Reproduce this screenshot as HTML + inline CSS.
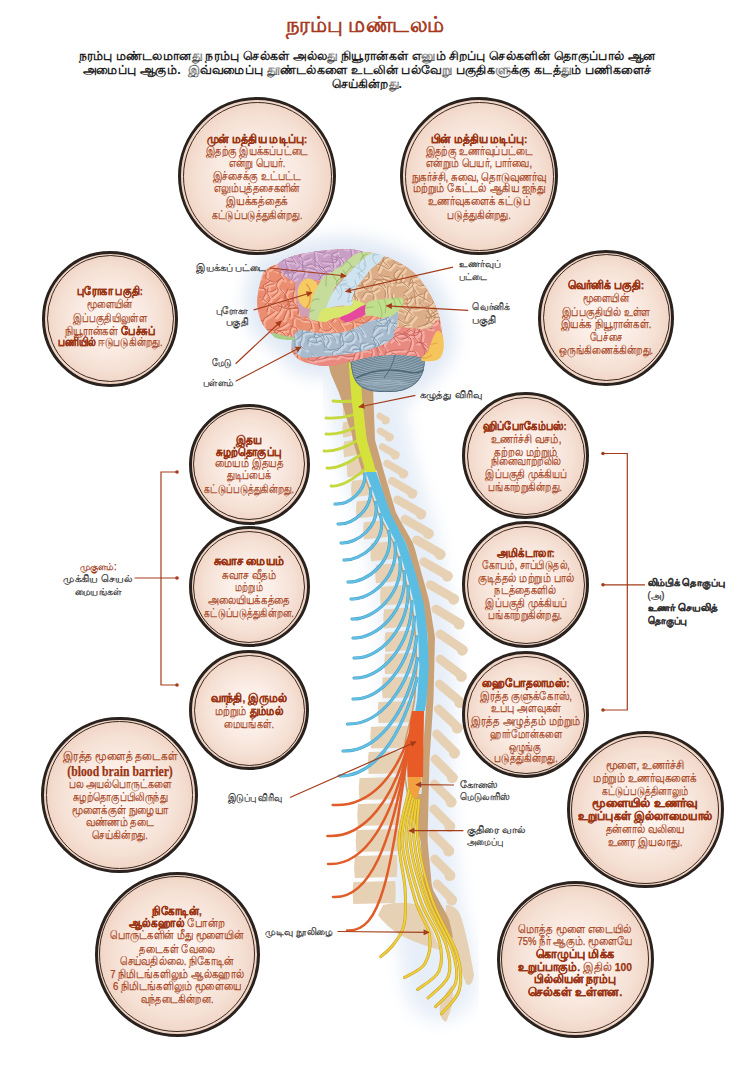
<!DOCTYPE html>
<html><head><meta charset="utf-8"><title>நரம்பு மண்டலம்</title>
<style>
html,body{margin:0;padding:0;background:#fff;}
body{width:756px;height:1068px;position:relative;overflow:hidden;font-family:"Liberation Sans",sans-serif;}
#art{position:absolute;left:0;top:0;width:756px;height:1068px;}
.c{position:absolute;border-radius:50%;box-sizing:border-box;border:3px solid #2a221e;
background:radial-gradient(circle closest-side, #fdf6f2 0%, #fbeee7 40%, #f5e0d4 80%, #f0d4c4 100%);}
.c::after{content:"";position:absolute;left:1.5px;top:1.5px;right:1.5px;bottom:1.5px;border:1px solid #3a2a22;border-radius:50%;}
.ln{position:absolute;height:13px;line-height:13px;text-align:center;white-space:nowrap;color:#a6421a;font-size:11.5px;-webkit-text-stroke:0.25px currentColor;}
.ln span{position:absolute;left:50%;top:0;transform:translateX(-50%);transform-origin:50% 50%;}
.ln b{color:#9a3412;}
.ln b.en{font-family:"Liberation Serif",serif;font-size:14px;}
.lab{color:#2e2e2e;}
</style></head>
<body>

<svg id="art" width="756" height="1068" viewBox="0 0 756 1068">
<defs><filter id="bl" x="-50%" y="-50%" width="200%" height="200%"><feGaussianBlur stdDeviation="9"/></filter><filter id="bl2" x="-50%" y="-50%" width="200%" height="200%"><feGaussianBlur stdDeviation="5"/></filter><marker id="ah" viewBox="0 0 10 10" refX="9" refY="5" markerWidth="8" markerHeight="6" markerUnits="userSpaceOnUse" orient="auto"><path d="M0,0 L10,5 L0,10 z" fill="#a43c1a"/></marker></defs>
<path d="M263.0,274.0 C265.0,269.7 267.5,268.7 270.0,267.0 C272.5,265.3 274.7,265.7 278.0,264.0 C281.3,262.3 284.8,258.9 290.0,257.0 C295.2,255.1 303.0,253.8 309.5,252.6 C316.0,251.4 322.2,250.6 329.0,250.0 C335.8,249.4 344.3,248.7 350.0,249.0 C355.7,249.3 359.2,251.1 363.0,251.8 C366.8,252.5 369.3,252.4 373.0,253.2 C376.7,254.0 380.4,255.0 385.0,256.7 C389.6,258.4 395.7,260.8 400.6,263.6 C405.5,266.4 410.2,269.4 414.4,273.3 C418.6,277.2 422.3,282.3 425.6,287.2 C428.9,292.1 431.7,297.4 434.0,302.5 C436.3,307.6 438.0,312.5 439.4,317.8 C440.8,323.1 441.7,329.3 442.2,334.4 C442.7,339.5 443.3,344.1 442.2,348.3 C441.1,352.5 438.7,354.9 435.3,359.4 C431.9,363.8 427.9,369.9 422.0,375.0 C416.1,380.1 408.7,387.2 400.0,390.0 C391.3,392.8 378.3,396.2 370.0,392.0 C361.7,387.8 356.7,369.3 350.0,365.0 C343.3,360.7 336.3,366.2 330.0,366.0 C323.7,365.8 317.0,365.0 312.0,364.0 C307.0,363.0 303.3,362.0 300.0,360.0 C296.7,358.0 293.4,354.4 292.0,352.0 C290.6,349.6 291.5,348.1 291.7,345.8 C291.9,343.5 294.1,339.1 293.0,338.0 C291.9,336.9 288.0,339.3 285.0,339.0 C282.0,338.7 277.8,337.3 275.0,336.0 C272.2,334.7 270.3,333.5 268.0,331.0 C265.7,328.5 262.8,325.2 261.0,321.0 C259.2,316.8 257.8,310.7 257.3,306.0 C256.8,301.3 257.1,298.3 258.0,293.0 C258.9,287.7 261.0,278.3 263.0,274.0Z" fill="#dfe8f4" stroke="#dfe8f4" stroke-width="24" stroke-linejoin="round" filter="url(#bl)"/>
<path d="M362.0,380.0 C365.0,395.0 373.3,442.7 380.0,470.0 C386.7,497.3 395.7,516.2 402.0,544.0 C408.3,571.8 415.3,607.7 418.0,637.0 C420.7,666.3 418.5,692.8 418.0,720.0 C417.5,747.2 413.8,770.0 415.0,800.0 C416.2,830.0 421.5,875.0 425.0,900.0 C428.5,925.0 433.5,935.8 436.0,950.0 C438.5,964.2 439.3,979.2 440.0,985.0" fill="none" stroke="#e6eef8" stroke-width="72" stroke-linecap="round" filter="url(#bl)"/>
<path d="M343.6,403.5 L355.6,400.5 Q356.6,408.0 355.6,415.5 L343.6,418.5 Q342.1,409.5 343.6,403.5 Z" fill="#e7d1b5"/>
<path d="M343.3,422.3 L357.7,419.3 Q358.7,427.0 357.7,434.7 L343.3,437.7 Q341.8,428.5 343.3,422.3 Z" fill="#e7d1b5"/>
<path d="M344.1,441.5 L361.1,438.5 Q362.1,446.4 361.1,454.3 L344.1,457.3 Q342.6,447.9 344.1,441.5 Z" fill="#e7d1b5"/>
<path d="M347.5,461.1 L367.0,458.1 Q368.0,466.1 367.0,474.2 L347.5,477.2 Q346.0,467.6 347.5,461.1 Z" fill="#e7d1b5"/>
<path d="M351.9,481.0 L374.1,478.0 Q375.1,486.3 374.1,494.6 L351.9,497.6 Q350.4,487.8 351.9,481.0 Z" fill="#e7d1b5"/>
<path d="M356.8,501.4 L381.6,498.4 Q382.6,506.9 381.6,515.4 L356.8,518.4 Q355.3,508.4 356.8,501.4 Z" fill="#e7d1b5"/>
<path d="M363.9,522.2 L391.5,519.2 Q392.5,527.9 391.5,536.6 L363.9,539.6 Q362.4,529.4 363.9,522.2 Z" fill="#e7d1b5"/>
<path d="M371.1,543.3 L401.5,540.3 Q402.5,549.3 401.5,558.2 L371.1,561.2 Q369.6,550.8 371.1,543.3 Z" fill="#e7d1b5"/>
<path d="M376.0,564.9 L408.5,561.9 Q409.5,571.1 408.5,580.2 L376.0,583.2 Q374.5,572.6 376.0,564.9 Z" fill="#e7d1b5"/>
<path d="M380.9,587.0 L414.5,584.0 Q415.5,593.3 414.5,602.7 L380.9,605.7 Q379.4,594.8 380.9,587.0 Z" fill="#e7d1b5"/>
<path d="M384.1,609.5 L418.9,606.5 Q419.9,616.0 418.9,625.6 L384.1,628.6 Q382.6,617.5 384.1,609.5 Z" fill="#e7d1b5"/>
<path d="M385.4,632.4 L421.4,629.4 Q422.4,639.2 421.4,649.0 L385.4,652.0 Q383.9,640.7 385.4,632.4 Z" fill="#e7d1b5"/>
<path d="M385.0,653.8 L422.1,652.8 Q423.1,662.8 422.1,672.9 L385.0,673.9 Q383.5,663.3 385.0,653.8 Z" fill="#e7d1b5"/>
<path d="M382.7,677.6 L421.0,676.6 Q422.0,686.9 421.0,697.2 L382.7,698.2 Q381.2,687.4 382.7,677.6 Z" fill="#e7d1b5"/>
<path d="M378.5,702.0 L418.1,701.0 Q419.1,711.5 418.1,722.0 L378.5,723.0 Q377.0,712.0 378.5,702.0 Z" fill="#e7d1b5"/>
<path d="M371.0,726.8 L411.9,725.8 Q412.9,736.6 411.9,747.4 L371.0,748.4 Q369.5,737.1 371.0,726.8 Z" fill="#e7d1b5"/>
<path d="M368.7,752.1 L410.7,751.1 Q411.7,762.1 410.7,773.1 L368.7,774.1 Q367.2,762.6 368.7,752.1 Z" fill="#e7d1b5"/>
<path d="M359.5,778.1 L401.5,777.1 Q402.5,788.1 401.5,799.1 L359.5,800.1 Q358.0,788.6 359.5,778.1 Z" fill="#e7d1b5"/>
<path d="M358.0,804.1 L400.0,803.1 Q401.0,814.1 400.0,825.1 L358.0,826.1 Q356.5,814.6 358.0,804.1 Z" fill="#e7d1b5"/>
<path d="M356.4,830.1 L398.4,829.1 Q399.4,840.1 398.4,851.1 L356.4,852.1 Q354.9,840.6 356.4,830.1 Z" fill="#e7d1b5"/>
<path d="M354.8,856.1 L396.8,855.1 Q397.8,866.1 396.8,877.1 L354.8,878.1 Q353.3,866.6 354.8,856.1 Z" fill="#e7d1b5"/>
<path d="M353.3,882.1 L395.3,881.1 Q396.3,892.1 395.3,903.1 L353.3,904.1 Q351.8,892.6 353.3,882.1 Z" fill="#e7d1b5"/>
<path d="M383,905 Q405,900 420,906 L432,930 L440,950 Q420,945 400,935 Q385,925 378,915 Z" fill="#e7d1b5"/>
<path d="M446,905 Q458,905 462,920 Q468,940 474,975 Q472,988 466,984 Q458,960 450,945 Q444,925 446,905Z" fill="#e7d1b5"/>
<path d="M452,985 Q456,1000 446,1022 Q438,1018 440,1005 Q444,995 452,985Z" fill="#e7d1b5"/>
<line x1="379.6" y1="416.0" x2="386.5" y2="420.0" stroke="#e7d1b5" stroke-width="6.5" stroke-linecap="round"/>
<circle cx="385.5" cy="420.5" r="3.9" fill="#e7d1b5"/>
<line x1="380.2" y1="431.0" x2="390.3" y2="436.9" stroke="#e7d1b5" stroke-width="6.9" stroke-linecap="round"/>
<circle cx="389.3" cy="437.4" r="4.1" fill="#e7d1b5"/>
<line x1="382.4" y1="446.8" x2="396.0" y2="454.7" stroke="#e7d1b5" stroke-width="7.3" stroke-linecap="round"/>
<circle cx="395.0" cy="455.2" r="4.4" fill="#e7d1b5"/>
<line x1="387.1" y1="463.5" x2="404.3" y2="473.5" stroke="#e7d1b5" stroke-width="7.7" stroke-linecap="round"/>
<circle cx="403.3" cy="474.0" r="4.6" fill="#e7d1b5"/>
<line x1="392.2" y1="481.1" x2="413.2" y2="493.3" stroke="#e7d1b5" stroke-width="8.1" stroke-linecap="round"/>
<circle cx="412.2" cy="493.8" r="4.9" fill="#e7d1b5"/>
<line x1="397.6" y1="499.7" x2="421.9" y2="513.7" stroke="#e7d1b5" stroke-width="8.6" stroke-linecap="round"/>
<circle cx="420.9" cy="514.2" r="5.2" fill="#e7d1b5"/>
<line x1="405.1" y1="519.3" x2="429.3" y2="533.3" stroke="#e7d1b5" stroke-width="9.0" stroke-linecap="round"/>
<circle cx="428.3" cy="533.8" r="5.4" fill="#e7d1b5"/>
<line x1="416.7" y1="540.0" x2="441.0" y2="554.0" stroke="#e7d1b5" stroke-width="9.0" stroke-linecap="round"/>
<circle cx="440.0" cy="554.5" r="5.4" fill="#e7d1b5"/>
<line x1="423.9" y1="561.8" x2="448.2" y2="575.8" stroke="#e7d1b5" stroke-width="9.0" stroke-linecap="round"/>
<circle cx="447.2" cy="576.3" r="5.4" fill="#e7d1b5"/>
<line x1="430.3" y1="584.8" x2="454.6" y2="598.8" stroke="#e7d1b5" stroke-width="9.0" stroke-linecap="round"/>
<circle cx="453.6" cy="599.3" r="5.4" fill="#e7d1b5"/>
<line x1="436.0" y1="609.1" x2="460.0" y2="623.6" stroke="#e7d1b5" stroke-width="9.0" stroke-linecap="round"/>
<circle cx="459.0" cy="624.1" r="5.4" fill="#e7d1b5"/>
<line x1="440.0" y1="634.1" x2="463.2" y2="649.8" stroke="#e7d1b5" stroke-width="9.0" stroke-linecap="round"/>
<circle cx="462.2" cy="650.3" r="5.4" fill="#e7d1b5"/>
<line x1="440.0" y1="659.1" x2="462.3" y2="676.0" stroke="#e7d1b5" stroke-width="9.0" stroke-linecap="round"/>
<circle cx="461.3" cy="676.5" r="5.4" fill="#e7d1b5"/>
<line x1="439.4" y1="684.1" x2="460.7" y2="702.1" stroke="#e7d1b5" stroke-width="9.0" stroke-linecap="round"/>
<circle cx="459.7" cy="702.6" r="5.4" fill="#e7d1b5"/>
<line x1="438.4" y1="709.1" x2="458.2" y2="727.7" stroke="#e7d1b5" stroke-width="9.0" stroke-linecap="round"/>
<circle cx="457.2" cy="728.2" r="5.4" fill="#e7d1b5"/>
<line x1="436.7" y1="734.1" x2="455.4" y2="752.8" stroke="#e7d1b5" stroke-width="9.0" stroke-linecap="round"/>
<circle cx="454.4" cy="753.3" r="5.4" fill="#e7d1b5"/>
<line x1="435.1" y1="759.1" x2="453.2" y2="777.3" stroke="#e7d1b5" stroke-width="9.0" stroke-linecap="round"/>
<circle cx="452.2" cy="777.8" r="5.4" fill="#e7d1b5"/>
<line x1="434.4" y1="784.1" x2="452.0" y2="801.7" stroke="#e7d1b5" stroke-width="9.0" stroke-linecap="round"/>
<circle cx="451.0" cy="802.2" r="5.4" fill="#e7d1b5"/>
<line x1="433.8" y1="809.1" x2="450.8" y2="826.2" stroke="#e7d1b5" stroke-width="9.0" stroke-linecap="round"/>
<circle cx="449.8" cy="826.7" r="5.4" fill="#e7d1b5"/>
<line x1="433.1" y1="834.1" x2="449.7" y2="850.7" stroke="#e7d1b5" stroke-width="9.0" stroke-linecap="round"/>
<circle cx="448.7" cy="851.2" r="5.4" fill="#e7d1b5"/>
<line x1="434.8" y1="859.1" x2="450.8" y2="875.1" stroke="#e7d1b5" stroke-width="9.0" stroke-linecap="round"/>
<circle cx="449.8" cy="875.6" r="5.4" fill="#e7d1b5"/>
<line x1="437.1" y1="884.1" x2="452.6" y2="899.6" stroke="#e7d1b5" stroke-width="9.0" stroke-linecap="round"/>
<circle cx="451.6" cy="900.1" r="5.4" fill="#e7d1b5"/>
<path d="M326.0,350.0 L327.1,356.0 L328.2,362.0 L329.3,368.0 L330.9,374.0 L333.5,380.0 L336.1,386.0 L338.7,392.0 L340.8,398.0 L342.5,404.0 L344.2,410.0 L345.9,416.0 L347.7,422.0 L349.9,428.0 L352.0,434.0 L352.7,440.0 L354.5,446.0 L356.3,452.0 L358.1,458.0 L359.9,464.0 L361.7,470.0 L363.8,476.0 L366.0,482.0 L368.2,488.0 L370.4,494.0 L372.6,500.0 L374.8,506.0 L377.0,512.0 L380.0,518.0 L383.0,524.0 L386.1,530.0 L389.2,536.0 L392.3,542.0 L394.6,548.0 L396.5,554.0 L398.5,560.0 L400.4,566.0 L402.3,572.0 L404.1,578.0 L405.6,584.0 L407.2,590.0 L408.7,596.0 L410.3,602.0 L411.5,608.0 L412.2,614.0 L412.9,620.0 L413.6,626.0 L414.2,632.0 L414.8,638.0 L415.0,644.0 L415.2,650.0 L415.4,656.0 L415.6,662.0 L415.8,668.0 L415.4,674.0 L415.0,680.0 L414.6,686.0 L414.2,692.0 L413.8,698.0 L412.9,704.0 L411.9,710.0 L410.5,716.0 L409.0,722.0 L407.5,728.0 L406.0,734.0 L404.5,740.0 L404.4,746.0 L404.3,752.0 L404.3,758.0 L404.2,764.0 L404.1,770.0 L404.0,776.0 L404.8,782.0 L405.8,788.0 L406.8,794.0 L407.8,800.0 L409.9,806.0 L411.8,812.0 L413.6,818.0 L415.5,824.0 L417.4,830.0 L419.2,836.0 L420.6,842.0 L421.1,848.0 L421.5,854.0 L422.0,860.0 L422.4,866.0 L422.8,872.0 L423.3,878.0 L423.7,884.0 L424.8,890.0 L427.2,896.0 L429.6,902.0 L432.0,908.0 L434.4,914.0 L437.1,920.0 L440.4,926.0 L443.8,932.0 L453.0,938.0 L452.0,932.0 L450.6,926.0 L449.1,920.0 L446.4,914.0 L443.1,908.0 L439.7,902.0 L436.4,896.0 L433.1,890.0 L431.6,884.0 L431.1,878.0 L430.5,872.0 L429.9,866.0 L429.4,860.0 L428.8,854.0 L428.2,848.0 L427.7,842.0 L427.6,836.0 L427.8,830.0 L427.9,824.0 L428.1,818.0 L428.2,812.0 L428.4,806.0 L428.5,800.0 L428.6,794.0 L428.8,788.0 L428.9,782.0 L429.1,776.0 L429.2,770.0 L429.4,764.0 L429.6,758.0 L430.0,752.0 L430.4,746.0 L430.8,740.0 L431.2,734.0 L431.6,728.0 L432.0,722.0 L432.4,716.0 L432.8,710.0 L433.2,704.0 L433.5,698.0 L433.7,692.0 L433.8,686.0 L434.0,680.0 L434.1,674.0 L434.3,668.0 L434.4,662.0 L434.5,656.0 L434.7,650.0 L434.8,644.0 L435.0,638.0 L434.2,632.0 L433.2,626.0 L432.2,620.0 L431.3,614.0 L430.3,608.0 L429.3,602.0 L427.9,596.0 L426.2,590.0 L424.6,584.0 L422.9,578.0 L421.2,572.0 L419.6,566.0 L417.9,560.0 L416.3,554.0 L414.6,548.0 L412.4,542.0 L409.0,536.0 L405.6,530.0 L402.2,524.0 L398.8,518.0 L395.7,512.0 L394.0,506.0 L392.2,500.0 L390.4,494.0 L388.7,488.0 L386.9,482.0 L385.2,476.0 L383.4,470.0 L381.8,464.0 L380.1,458.0 L378.4,452.0 L376.7,446.0 L375.0,440.0 L374.8,434.0 L374.6,428.0 L374.3,422.0 L374.1,416.0 L373.9,410.0 L373.6,404.0 L373.4,398.0 L373.3,392.0 L373.1,386.0 L372.9,380.0 L372.7,374.0 L372.5,368.0 L372.4,362.0 L372.2,356.0 L372.0,350.0 Z" fill="#c9a175"/>
<path d="M363.4,470.0 L365.5,476.0 L367.7,482.0 L369.9,488.0 L372.1,494.0 L374.3,500.0 L376.5,506.0 L378.7,512.0 L381.7,518.0 L384.7,524.0 L387.8,530.0 L390.9,536.0 L394.0,542.0 L396.3,548.0 L398.2,554.0 L400.2,560.0 L402.1,566.0 L404.0,572.0 L405.8,578.0 L407.3,584.0 L408.9,590.0 L410.4,596.0 L412.0,602.0 L413.2,608.0 L413.9,614.0 L414.6,620.0 L415.3,626.0 L415.9,632.0 L416.5,638.0 L416.7,644.0 L416.9,650.0 L417.1,656.0 L417.3,662.0 L417.5,668.0 L417.1,674.0 L416.7,680.0 L416.3,686.0 L415.9,692.0 L415.5,698.0 L414.6,704.0 L413.6,710.0 L412.2,716.0 L410.7,722.0 L409.2,728.0 L407.7,734.0 L406.2,740.0 L406.1,746.0 L406.0,752.0 L406.0,758.0 L405.9,764.0 L405.8,770.0 L405.7,776.0 L406.5,782.0 L407.5,788.0 L408.5,794.0 L421.6,794.0 L421.8,788.0 L421.9,782.0 L422.1,776.0 L422.2,770.0 L422.4,764.0 L422.6,758.0 L423.0,752.0 L423.4,746.0 L423.8,740.0 L424.2,734.0 L424.6,728.0 L425.0,722.0 L425.4,716.0 L425.8,710.0 L426.2,704.0 L426.5,698.0 L426.7,692.0 L426.8,686.0 L427.0,680.0 L427.1,674.0 L427.3,668.0 L427.4,662.0 L427.5,656.0 L427.7,650.0 L427.8,644.0 L428.0,638.0 L427.2,632.0 L426.2,626.0 L425.2,620.0 L424.3,614.0 L423.3,608.0 L422.3,602.0 L420.9,596.0 L419.2,590.0 L417.6,584.0 L415.9,578.0 L414.2,572.0 L412.6,566.0 L410.9,560.0 L409.3,554.0 L407.6,548.0 L405.4,542.0 L402.0,536.0 L398.6,530.0 L395.2,524.0 L391.8,518.0 L388.7,512.0 L387.0,506.0 L385.2,500.0 L383.4,494.0 L381.7,488.0 L379.9,482.0 L378.2,476.0 L376.4,470.0 Z" fill="#d6eaf3"/>
<path d="M352.8,401.0 Q347.0,402.0 333.0,401.0" fill="none" stroke="#c5d83c" stroke-width="2.8" stroke-linecap="round"/>
<path d="M354.3,414.5 Q340.0,419.0 326.0,418.0" fill="none" stroke="#c5d83c" stroke-width="2.8" stroke-linecap="round"/>
<path d="M355.7,427.0 Q340.0,435.0 326.0,434.0" fill="none" stroke="#c5d83c" stroke-width="2.8" stroke-linecap="round"/>
<path d="M357.4,440.5 Q338.0,452.0 324.0,451.0" fill="none" stroke="#c5d83c" stroke-width="2.8" stroke-linecap="round"/>
<path d="M361.4,454.0 Q341.0,469.0 327.0,468.0" fill="none" stroke="#c5d83c" stroke-width="2.8" stroke-linecap="round"/>
<path d="M365.8,468.5 Q345.0,487.0 331.0,486.0" fill="none" stroke="#c5d83c" stroke-width="2.8" stroke-linecap="round"/>
<path d="M365.0,474.0 C365.7,492.0 348.5,505.0 335.0,504.0" fill="none" stroke="#3f9fc6" stroke-width="3.1" stroke-linecap="round"/><path d="M365.0,474.0 C365.7,492.0 348.5,505.0 335.0,504.0" fill="none" stroke="#62bfe3" stroke-width="2.2" stroke-linecap="round"/>
<path d="M370.5,488.8 C372.3,509.9 352.6,525.0 338.0,524.0" fill="none" stroke="#3f9fc6" stroke-width="3.1" stroke-linecap="round"/><path d="M370.5,488.8 C372.3,509.9 352.6,525.0 338.0,524.0" fill="none" stroke="#62bfe3" stroke-width="2.2" stroke-linecap="round"/>
<path d="M375.6,502.6 C380.5,526.8 356.6,544.0 341.0,543.0" fill="none" stroke="#3f9fc6" stroke-width="3.1" stroke-linecap="round"/><path d="M375.6,502.6 C380.5,526.8 356.6,544.0 341.0,543.0" fill="none" stroke="#62bfe3" stroke-width="2.2" stroke-linecap="round"/>
<path d="M380.1,514.4 C388.2,541.8 360.3,561.0 344.0,560.0" fill="none" stroke="#3f9fc6" stroke-width="3.1" stroke-linecap="round"/><path d="M380.1,514.4 C388.2,541.8 360.3,561.0 344.0,560.0" fill="none" stroke="#62bfe3" stroke-width="2.2" stroke-linecap="round"/>
<path d="M388.7,531.2 C395.0,561.7 366.3,583.0 348.0,582.0" fill="none" stroke="#3f9fc6" stroke-width="3.1" stroke-linecap="round"/><path d="M388.7,531.2 C395.0,561.7 366.3,583.0 348.0,582.0" fill="none" stroke="#62bfe3" stroke-width="2.2" stroke-linecap="round"/>
<path d="M394.8,543.0 C399.7,576.6 370.7,600.0 351.0,599.0" fill="none" stroke="#3f9fc6" stroke-width="3.1" stroke-linecap="round"/><path d="M394.8,543.0 C399.7,576.6 370.7,600.0 351.0,599.0" fill="none" stroke="#62bfe3" stroke-width="2.2" stroke-linecap="round"/>
<path d="M399.8,557.8 C404.3,594.5 373.5,620.0 352.0,619.0" fill="none" stroke="#3f9fc6" stroke-width="3.1" stroke-linecap="round"/><path d="M399.8,557.8 C404.3,594.5 373.5,620.0 352.0,619.0" fill="none" stroke="#62bfe3" stroke-width="2.2" stroke-linecap="round"/>
<path d="M404.2,571.6 C407.9,611.4 376.0,639.0 353.0,638.0" fill="none" stroke="#3f9fc6" stroke-width="3.1" stroke-linecap="round"/><path d="M404.2,571.6 C407.9,611.4 376.0,639.0 353.0,638.0" fill="none" stroke="#62bfe3" stroke-width="2.2" stroke-linecap="round"/>
<path d="M408.2,586.4 C409.9,629.4 378.4,659.0 354.0,658.0" fill="none" stroke="#3f9fc6" stroke-width="3.1" stroke-linecap="round"/><path d="M408.2,586.4 C409.9,629.4 378.4,659.0 354.0,658.0" fill="none" stroke="#62bfe3" stroke-width="2.2" stroke-linecap="round"/>
<path d="M412.1,601.2 C411.1,647.3 380.1,679.0 354.0,678.0" fill="none" stroke="#3f9fc6" stroke-width="3.1" stroke-linecap="round"/><path d="M412.1,601.2 C411.1,647.3 380.1,679.0 354.0,678.0" fill="none" stroke="#62bfe3" stroke-width="2.2" stroke-linecap="round"/>
<path d="M414.5,617.0 C411.7,666.2 380.7,700.0 353.0,699.0" fill="none" stroke="#3f9fc6" stroke-width="3.1" stroke-linecap="round"/><path d="M414.5,617.0 C411.7,666.2 380.7,700.0 353.0,699.0" fill="none" stroke="#62bfe3" stroke-width="2.2" stroke-linecap="round"/>
<path d="M416.8,636.8 C410.4,689.1 378.7,725.0 347.5,724.0" fill="none" stroke="#3f9fc6" stroke-width="3.1" stroke-linecap="round"/><path d="M416.8,636.8 C410.4,689.1 378.7,725.0 347.5,724.0" fill="none" stroke="#62bfe3" stroke-width="2.2" stroke-linecap="round"/>
<path d="M417.5,658.6 C406.9,714.0 376.5,752.0 343.0,751.0" fill="none" stroke="#3f9fc6" stroke-width="3.1" stroke-linecap="round"/><path d="M417.5,658.6 C406.9,714.0 376.5,752.0 343.0,751.0" fill="none" stroke="#62bfe3" stroke-width="2.2" stroke-linecap="round"/>
<path d="M417.1,678.4 C401.3,737.0 374.1,777.0 339.0,776.0" fill="none" stroke="#3f9fc6" stroke-width="3.1" stroke-linecap="round"/><path d="M417.1,678.4 C401.3,737.0 374.1,777.0 339.0,776.0" fill="none" stroke="#62bfe3" stroke-width="2.2" stroke-linecap="round"/>
<path d="M414.0,720.0 C398.0,779.5 367.7,807.0 332.7,805.0" fill="none" stroke="#e05c28" stroke-width="2.5" stroke-linecap="round"/>
<path d="M412.5,726.0 C396.0,803.0 362.4,838.0 327.4,836.0" fill="none" stroke="#e05c28" stroke-width="2.5" stroke-linecap="round"/>
<path d="M411.0,732.0 C394.0,824.4 363.0,866.0 328.0,864.0" fill="none" stroke="#e05c28" stroke-width="2.5" stroke-linecap="round"/>
<path d="M409.5,738.0 C392.0,849.3 368.0,899.0 333.0,897.0" fill="none" stroke="#e05c28" stroke-width="2.5" stroke-linecap="round"/>
<path d="M408.9,744.0 C390.0,874.5 382.0,932.5 347.0,930.5" fill="none" stroke="#e05c28" stroke-width="2.5" stroke-linecap="round"/>
<path d="M347.7,350.0 L348.0,354.0 L348.3,358.0 L348.7,362.0 L349.0,366.0 L349.3,370.0 L349.6,374.0 L349.9,378.0 L350.3,382.0 L350.6,386.0 L350.9,390.0 L351.2,394.0 L351.5,398.0 L351.9,402.0 L352.4,406.0 L352.8,410.0 L353.3,414.0 L353.7,418.0 L354.2,422.0 L354.6,426.0 L355.1,430.0 L355.5,434.0 L356.0,438.0 L356.8,442.0 L358.0,446.0 L359.2,450.0 L360.4,454.0 L361.6,458.0 L362.8,462.0 L364.0,466.0 L365.2,470.0 L365.8,472.0 L376.2,472.0 L375.6,470.0 L374.4,466.0 L373.3,462.0 L372.1,458.0 L370.9,454.0 L369.7,450.0 L368.6,446.0 L367.4,442.0 L366.6,438.0 L366.1,434.0 L365.7,430.0 L365.2,426.0 L364.8,422.0 L364.3,418.0 L363.9,414.0 L363.4,410.0 L363.0,406.0 L362.5,402.0 L362.1,398.0 L361.8,394.0 L361.5,390.0 L361.2,386.0 L360.9,382.0 L360.5,378.0 L360.2,374.0 L359.9,370.0 L359.6,366.0 L359.3,362.0 L358.9,358.0 L358.6,354.0 L358.3,350.0 Z" fill="#d6e23c"/>
<path d="M365.8,472.0 L367.3,476.0 L368.7,480.0 L370.2,484.0 L371.7,488.0 L373.2,492.0 L374.6,496.0 L376.1,500.0 L377.6,504.0 L379.1,508.0 L380.5,512.0 L382.4,516.0 L384.5,520.0 L386.5,524.0 L388.6,528.0 L390.6,532.0 L392.7,536.0 L394.7,540.0 L396.8,544.0 L398.1,548.0 L399.4,552.0 L400.7,556.0 L402.0,560.0 L403.3,564.0 L404.5,568.0 L405.8,572.0 L407.1,576.0 L408.1,580.0 L409.1,584.0 L410.2,588.0 L411.2,592.0 L412.2,596.0 L413.3,600.0 L414.3,604.0 L415.0,608.0 L415.5,612.0 L415.9,616.0 L416.4,620.0 L416.8,624.0 L417.3,628.0 L417.7,632.0 L418.2,636.0 L418.4,640.0 L418.5,644.0 L418.7,648.0 L418.8,652.0 L418.9,656.0 L419.0,660.0 L419.2,664.0 L419.3,668.0 L419.0,672.0 L418.8,676.0 L418.5,680.0 L418.2,684.0 L417.9,688.0 L417.7,692.0 L417.4,696.0 L417.0,700.0 L416.4,704.0 L415.7,708.0 L415.2,711.0 L424.8,711.0 L425.3,708.0 L426.0,704.0 L426.6,700.0 L427.0,696.0 L427.2,692.0 L427.5,688.0 L427.7,684.0 L428.0,680.0 L428.2,676.0 L428.5,672.0 L428.7,668.0 L428.6,664.0 L428.4,660.0 L428.3,656.0 L428.2,652.0 L428.1,648.0 L427.9,644.0 L427.8,640.0 L427.6,636.0 L427.1,632.0 L426.7,628.0 L426.2,624.0 L425.8,620.0 L425.3,616.0 L424.9,612.0 L424.4,608.0 L423.7,604.0 L422.7,600.0 L421.6,596.0 L420.6,592.0 L419.6,588.0 L418.5,584.0 L417.5,580.0 L416.5,576.0 L415.2,572.0 L413.9,568.0 L412.7,564.0 L411.4,560.0 L410.1,556.0 L408.8,552.0 L407.5,548.0 L406.2,544.0 L404.2,540.0 L402.1,536.0 L400.1,532.0 L398.1,528.0 L396.1,524.0 L394.0,520.0 L392.0,516.0 L390.2,512.0 L388.8,508.0 L387.4,504.0 L386.0,500.0 L384.6,496.0 L383.2,492.0 L381.8,488.0 L380.4,484.0 L379.0,480.0 L377.6,476.0 L376.2,472.0 Z" fill="#5cbde3"/>
<path d="M412,711 L424,711 L423,777 L407.5,777 Q406,740 412,711Z" fill="#e85a26"/>
<path d="M407.5,777 L421.8,777 Q420,795 413,807.5 Q408,795 407.5,777Z" fill="#f2a040"/>
<path d="M409.0,790.0 C407.3,798.3 399.7,823.7 399.0,840.0 C398.3,856.3 404.2,873.8 405.0,888.0 C405.8,902.2 406.0,915.5 404.0,925.0 C402.0,934.5 396.9,939.7 393.0,945.0 C389.1,950.3 382.8,954.8 380.7,956.7" fill="none" stroke="#c9a22a" stroke-width="3.0" stroke-linecap="round"/>
<path d="M409.0,790.0 C407.3,798.3 399.7,823.7 399.0,840.0 C398.3,856.3 404.2,873.8 405.0,888.0 C405.8,902.2 406.0,915.5 404.0,925.0 C402.0,934.5 396.9,939.7 393.0,945.0 C389.1,950.3 382.8,954.8 380.7,956.7" fill="none" stroke="#efd03c" stroke-width="1.9" stroke-linecap="round"/>
<path d="M411.0,795.0 C409.5,802.5 401.3,822.6 402.0,840.0 C402.7,857.4 410.4,883.7 415.0,899.5 C419.6,915.3 427.9,924.3 429.5,935.0 C431.1,945.7 429.0,956.7 424.8,963.8 C420.6,970.9 407.9,975.3 404.5,977.6" fill="none" stroke="#c9a22a" stroke-width="3.0" stroke-linecap="round"/>
<path d="M411.0,795.0 C409.5,802.5 401.3,822.6 402.0,840.0 C402.7,857.4 410.4,883.7 415.0,899.5 C419.6,915.3 427.9,924.3 429.5,935.0 C431.1,945.7 429.0,956.7 424.8,963.8 C420.6,970.9 407.9,975.3 404.5,977.6" fill="none" stroke="#efd03c" stroke-width="1.9" stroke-linecap="round"/>
<path d="M413.0,798.0 C411.8,805.0 404.8,823.1 406.0,840.0 C407.2,856.9 414.5,882.8 420.0,899.5 C425.5,916.2 435.8,928.1 439.0,940.0 C442.2,951.9 442.6,962.8 439.0,971.0 C435.4,979.2 421.2,986.4 417.6,989.5" fill="none" stroke="#c9a22a" stroke-width="3.0" stroke-linecap="round"/>
<path d="M413.0,798.0 C411.8,805.0 404.8,823.1 406.0,840.0 C407.2,856.9 414.5,882.8 420.0,899.5 C425.5,916.2 435.8,928.1 439.0,940.0 C442.2,951.9 442.6,962.8 439.0,971.0 C435.4,979.2 421.2,986.4 417.6,989.5" fill="none" stroke="#efd03c" stroke-width="1.9" stroke-linecap="round"/>
<path d="M415.0,800.0 C414.2,806.7 408.4,823.4 410.0,840.0 C411.6,856.6 418.8,882.0 424.8,899.5 C430.8,917.0 442.0,932.1 446.0,944.8 C450.0,957.5 451.6,966.8 448.6,975.7 C445.6,984.6 431.4,994.3 428.0,998.0" fill="none" stroke="#c9a22a" stroke-width="3.0" stroke-linecap="round"/>
<path d="M415.0,800.0 C414.2,806.7 408.4,823.4 410.0,840.0 C411.6,856.6 418.8,882.0 424.8,899.5 C430.8,917.0 442.0,932.1 446.0,944.8 C450.0,957.5 451.6,966.8 448.6,975.7 C445.6,984.6 431.4,994.3 428.0,998.0" fill="none" stroke="#efd03c" stroke-width="1.9" stroke-linecap="round"/>
<path d="M417.0,800.0 C416.5,806.7 412.1,823.4 414.0,840.0 C415.9,856.6 422.0,881.2 428.3,899.5 C434.6,917.8 447.4,935.6 452.0,949.5 C456.6,963.4 458.4,973.4 455.7,982.9 C452.9,992.4 438.9,1002.7 435.5,1006.7" fill="none" stroke="#c9a22a" stroke-width="3.0" stroke-linecap="round"/>
<path d="M417.0,800.0 C416.5,806.7 412.1,823.4 414.0,840.0 C415.9,856.6 422.0,881.2 428.3,899.5 C434.6,917.8 447.4,935.6 452.0,949.5 C456.6,963.4 458.4,973.4 455.7,982.9 C452.9,992.4 438.9,1002.7 435.5,1006.7" fill="none" stroke="#efd03c" stroke-width="1.9" stroke-linecap="round"/>
<path d="M419.0,800.0 C418.8,806.7 415.8,823.4 418.0,840.0 C420.2,856.6 425.5,880.5 432.0,899.5 C438.5,918.5 452.4,938.9 457.0,954.0 C461.6,969.1 461.9,980.0 459.3,990.0 C456.7,1000.0 444.4,1009.8 441.4,1013.8" fill="none" stroke="#c9a22a" stroke-width="3.0" stroke-linecap="round"/>
<path d="M419.0,800.0 C418.8,806.7 415.8,823.4 418.0,840.0 C420.2,856.6 425.5,880.5 432.0,899.5 C438.5,918.5 452.4,938.9 457.0,954.0 C461.6,969.1 461.9,980.0 459.3,990.0 C456.7,1000.0 444.4,1009.8 441.4,1013.8" fill="none" stroke="#efd03c" stroke-width="1.9" stroke-linecap="round"/>
<path d="M352.0,354.0 C355.0,350.3 363.7,350.2 370.0,349.0 C376.3,347.8 383.3,347.2 390.0,347.0 C396.7,346.8 404.5,347.0 410.0,348.0 C415.5,349.0 420.7,349.7 423.0,353.0 C425.3,356.3 424.8,363.3 424.0,368.0 C423.2,372.7 421.3,377.3 418.0,381.0 C414.7,384.7 409.5,388.2 404.0,390.0 C398.5,391.8 391.0,392.0 385.0,392.0 C379.0,392.0 372.7,391.5 368.0,390.0 C363.3,388.5 359.7,386.2 357.0,383.0 C354.3,379.8 352.8,375.8 352.0,371.0 C351.2,366.2 349.0,357.7 352.0,354.0Z" fill="#6f8797"/>
<clipPath id="cp_cer"><path d="M352.0,354.0 C355.0,350.3 363.7,350.2 370.0,349.0 C376.3,347.8 383.3,347.2 390.0,347.0 C396.7,346.8 404.5,347.0 410.0,348.0 C415.5,349.0 420.7,349.7 423.0,353.0 C425.3,356.3 424.8,363.3 424.0,368.0 C423.2,372.7 421.3,377.3 418.0,381.0 C414.7,384.7 409.5,388.2 404.0,390.0 C398.5,391.8 391.0,392.0 385.0,392.0 C379.0,392.0 372.7,391.5 368.0,390.0 C363.3,388.5 359.7,386.2 357.0,383.0 C354.3,379.8 352.8,375.8 352.0,371.0 C351.2,366.2 349.0,357.7 352.0,354.0Z"/></clipPath>
<g clip-path="url(#cp_cer)" fill="none"><path d="M381.2,353.2 Q388.0,357.0 394.8,353.2" stroke="#a3b8c4" stroke-width="0.8"/><path d="M376.8,354.0 Q388.0,360.2 399.2,354.0" stroke="#a3b8c4" stroke-width="0.8"/><path d="M372.4,354.8 Q388.0,363.5 403.6,354.8" stroke="#a3b8c4" stroke-width="0.8"/><path d="M367.9,355.5 Q388.0,366.8 408.1,355.5" stroke="#a3b8c4" stroke-width="0.8"/><path d="M363.5,356.3 Q388.0,370.0 412.5,356.3" stroke="#a3b8c4" stroke-width="0.8"/><path d="M359.1,357.1 Q388.0,373.2 416.9,357.1" stroke="#a3b8c4" stroke-width="0.8"/><path d="M354.7,357.9 Q388.0,376.5 421.3,357.9" stroke="#a3b8c4" stroke-width="0.8"/><path d="M350.3,358.7 Q388.0,379.8 425.7,358.7" stroke="#a3b8c4" stroke-width="0.8"/><path d="M345.8,359.4 Q388.0,383.0 430.2,359.4" stroke="#a3b8c4" stroke-width="0.8"/><path d="M341.4,360.2 Q388.0,386.2 434.6,360.2" stroke="#a3b8c4" stroke-width="0.8"/><path d="M337.0,361.0 Q388.0,389.5 439.0,361.0" stroke="#a3b8c4" stroke-width="0.8"/><path d="M332.6,361.8 Q388.0,392.8 443.4,361.8" stroke="#a3b8c4" stroke-width="0.8"/><path d="M328.2,362.6 Q388.0,396.0 447.8,362.6" stroke="#a3b8c4" stroke-width="0.8"/><path d="M323.7,363.3 Q388.0,399.2 452.3,363.3" stroke="#a3b8c4" stroke-width="0.8"/><path d="M319.3,364.1 Q388.0,402.5 456.7,364.1" stroke="#a3b8c4" stroke-width="0.8"/><path d="M314.9,364.9 Q388.0,405.8 461.1,364.9" stroke="#a3b8c4" stroke-width="0.8"/><path d="M367.2,392.4 Q380.0,389.7 399.8,392.4" stroke="#a3b8c4" stroke-width="0.8"/><path d="M363.4,391.9 Q380.0,387.1 403.6,391.9" stroke="#a3b8c4" stroke-width="0.8"/><path d="M359.5,391.4 Q380.0,384.4 407.5,391.4" stroke="#a3b8c4" stroke-width="0.8"/><path d="M355.7,391.0 Q380.0,381.8 411.3,391.0" stroke="#a3b8c4" stroke-width="0.8"/><path d="M351.8,390.5 Q380.0,379.1 415.2,390.5" stroke="#a3b8c4" stroke-width="0.8"/><path d="M348.0,390.0 Q380.0,376.5 419.0,390.0" stroke="#a3b8c4" stroke-width="0.8"/><path d="M344.2,389.5 Q380.0,373.9 422.8,389.5" stroke="#a3b8c4" stroke-width="0.8"/><path d="M340.3,389.0 Q380.0,371.2 426.7,389.0" stroke="#a3b8c4" stroke-width="0.8"/><path d="M356,378 Q380,366 408,372 Q418,374 424,370" stroke="#4d6574" stroke-width="1.5"/><path d="M395,355 Q392,368 384,378" stroke="#4d6574" stroke-width="0.9"/><path d="M352.0,354.0 C355.0,350.3 363.7,350.2 370.0,349.0 C376.3,347.8 383.3,347.2 390.0,347.0 C396.7,346.8 404.5,347.0 410.0,348.0 C415.5,349.0 420.7,349.7 423.0,353.0 C425.3,356.3 424.8,363.3 424.0,368.0 C423.2,372.7 421.3,377.3 418.0,381.0 C414.7,384.7 409.5,388.2 404.0,390.0 C398.5,391.8 391.0,392.0 385.0,392.0 C379.0,392.0 372.7,391.5 368.0,390.0 C363.3,388.5 359.7,386.2 357.0,383.0 C354.3,379.8 352.8,375.8 352.0,371.0 C351.2,366.2 349.0,357.7 352.0,354.0Z" stroke="#50697a" stroke-width="1.4"/></g>
<path d="M263.0,274.0 C265.0,269.7 267.5,268.7 270.0,267.0 C272.5,265.3 274.7,265.7 278.0,264.0 C281.3,262.3 284.8,258.9 290.0,257.0 C295.2,255.1 303.0,253.8 309.5,252.6 C316.0,251.4 322.2,250.6 329.0,250.0 C335.8,249.4 344.3,248.7 350.0,249.0 C355.7,249.3 359.2,251.1 363.0,251.8 C366.8,252.5 369.3,252.4 373.0,253.2 C376.7,254.0 380.4,255.0 385.0,256.7 C389.6,258.4 395.7,260.8 400.6,263.6 C405.5,266.4 410.2,269.4 414.4,273.3 C418.6,277.2 422.3,282.3 425.6,287.2 C428.9,292.1 431.7,297.4 434.0,302.5 C436.3,307.6 438.0,312.5 439.4,317.8 C440.8,323.1 441.7,329.3 442.2,334.4 C442.7,339.5 443.3,344.1 442.2,348.3 C441.1,352.5 438.5,357.9 435.3,359.4 C432.1,360.8 428.7,357.7 422.8,357.0 C416.9,356.3 408.0,355.2 400.0,355.0 C392.0,354.8 383.0,355.0 375.0,356.0 C367.0,357.0 359.5,359.3 352.0,361.0 C344.5,362.7 336.7,365.5 330.0,366.0 C323.3,366.5 317.0,365.0 312.0,364.0 C307.0,363.0 303.3,362.0 300.0,360.0 C296.7,358.0 293.4,354.4 292.0,352.0 C290.6,349.6 291.5,348.1 291.7,345.8 C291.9,343.5 294.1,339.1 293.0,338.0 C291.9,336.9 288.0,339.3 285.0,339.0 C282.0,338.7 277.8,337.3 275.0,336.0 C272.2,334.7 270.3,333.5 268.0,331.0 C265.7,328.5 262.8,325.2 261.0,321.0 C259.2,316.8 257.8,310.7 257.3,306.0 C256.8,301.3 257.1,298.3 258.0,293.0 C258.9,287.7 261.0,278.3 263.0,274.0Z" fill="#eb8d71"/>
<clipPath id="cp_sil"><path d="M263.0,274.0 C265.0,269.7 267.5,268.7 270.0,267.0 C272.5,265.3 274.7,265.7 278.0,264.0 C281.3,262.3 284.8,258.9 290.0,257.0 C295.2,255.1 303.0,253.8 309.5,252.6 C316.0,251.4 322.2,250.6 329.0,250.0 C335.8,249.4 344.3,248.7 350.0,249.0 C355.7,249.3 359.2,251.1 363.0,251.8 C366.8,252.5 369.3,252.4 373.0,253.2 C376.7,254.0 380.4,255.0 385.0,256.7 C389.6,258.4 395.7,260.8 400.6,263.6 C405.5,266.4 410.2,269.4 414.4,273.3 C418.6,277.2 422.3,282.3 425.6,287.2 C428.9,292.1 431.7,297.4 434.0,302.5 C436.3,307.6 438.0,312.5 439.4,317.8 C440.8,323.1 441.7,329.3 442.2,334.4 C442.7,339.5 443.3,344.1 442.2,348.3 C441.1,352.5 438.5,357.9 435.3,359.4 C432.1,360.8 428.7,357.7 422.8,357.0 C416.9,356.3 408.0,355.2 400.0,355.0 C392.0,354.8 383.0,355.0 375.0,356.0 C367.0,357.0 359.5,359.3 352.0,361.0 C344.5,362.7 336.7,365.5 330.0,366.0 C323.3,366.5 317.0,365.0 312.0,364.0 C307.0,363.0 303.3,362.0 300.0,360.0 C296.7,358.0 293.4,354.4 292.0,352.0 C290.6,349.6 291.5,348.1 291.7,345.8 C291.9,343.5 294.1,339.1 293.0,338.0 C291.9,336.9 288.0,339.3 285.0,339.0 C282.0,338.7 277.8,337.3 275.0,336.0 C272.2,334.7 270.3,333.5 268.0,331.0 C265.7,328.5 262.8,325.2 261.0,321.0 C259.2,316.8 257.8,310.7 257.3,306.0 C256.8,301.3 257.1,298.3 258.0,293.0 C258.9,287.7 261.0,278.3 263.0,274.0Z"/></clipPath>
<g clip-path="url(#cp_sil)" fill="none" stroke-linecap="round"><path d="M256 247C255 247 251 247 249 248C248 249 246 250 245 251C243 251 241 253 240 253M267 246C268 247 272 249 274 249C276 249 277 247 279 246C281 245 286 244 287 244M278 248C278 247 280 243 280 241C280 238 279 237 278 235C277 234 273 234 272 234M289 247C289 246 286 244 285 242C284 241 284 238 282 238C281 237 278 239 277 239M298 249C298 249 295 252 295 254C294 256 294 260 294 262C293 264 291 266 290 266M308 249C309 249 312 247 314 248C315 249 315 251 316 253C318 254 321 257 321 258M315 249C316 250 319 252 321 254C323 256 324 258 326 260C328 261 332 262 333 263M328 249C327 249 323 246 321 245C319 243 317 241 315 241C313 241 310 244 309 245M338 252C338 251 337 248 337 246C338 244 339 243 339 241C340 239 340 236 340 235M345 246C344 246 343 244 341 242C339 241 335 239 333 239C331 239 329 242 328 243M358 251C359 251 362 251 363 250C365 250 367 247 369 248C371 248 375 252 376 252M365 247C366 248 369 250 370 252C371 253 372 256 373 257C375 257 378 255 379 255M377 249C378 250 381 250 383 251C385 252 387 255 390 254C392 254 395 250 396 249M389 251C389 250 390 247 389 245C388 243 385 241 383 241C381 241 379 243 379 244M396 247C396 248 397 250 398 251C400 252 402 252 404 251C405 251 408 250 409 250M410 250C411 250 414 251 416 251C417 252 419 250 421 251C423 252 426 256 427 257M417 249C418 248 421 248 423 246C424 244 426 241 426 239C426 237 424 235 424 234M430 249C430 250 432 252 433 254C434 256 436 259 436 261C436 263 434 267 433 268M436 248C436 249 436 253 435 255C434 257 431 257 430 259C429 261 429 265 428 266M265 261C266 261 271 260 272 258C274 257 275 254 275 252C276 250 276 248 276 247M269 258C269 259 266 262 265 265C264 267 264 271 262 272C260 273 255 271 253 271M281 257C282 258 285 259 286 261C288 262 290 265 291 267C291 270 289 273 289 274M293 261C294 262 297 265 298 267C299 270 297 273 297 275C297 277 297 280 297 281M304 258C305 258 308 258 310 258C313 257 316 256 318 255C321 255 323 257 324 257M310 257C311 257 314 257 315 258C317 259 319 263 320 265C321 268 320 270 320 271M323 257C323 258 324 261 324 264C325 266 325 269 326 272C327 275 328 278 329 279M334 257C335 258 336 261 337 262C338 264 338 266 339 268C340 270 341 272 342 273M345 258C343 258 339 258 337 259C334 259 331 260 329 261C326 261 323 262 322 262M352 256C352 257 352 260 351 261C349 262 347 262 346 263C344 264 340 266 339 267M363 258C361 258 357 256 355 256C353 256 351 259 350 261C349 263 349 266 349 267M374 259C373 258 371 254 370 252C369 250 367 248 366 246C364 244 362 242 362 241M383 259C382 259 378 259 375 257C373 256 370 254 369 252C368 251 370 248 370 247M393 262C392 261 391 258 391 257C390 255 389 253 388 252C387 251 384 251 383 250M403 261C403 259 403 255 403 253C404 251 404 249 406 248C408 247 413 247 414 247M411 262C410 263 406 266 404 267C402 268 401 266 399 266C396 266 393 266 392 266M421 257C421 258 419 259 417 260C415 261 412 261 411 263C410 264 412 268 412 269M433 259C433 260 433 265 432 267C431 268 429 267 427 268C426 269 424 271 424 272M259 268C260 268 264 271 266 272C267 274 265 277 266 278C268 280 272 282 274 282M268 270C269 270 272 267 274 266C276 265 276 263 278 262C279 262 283 264 284 265M279 267C279 265 277 261 276 259C274 257 273 256 272 254C271 252 269 248 269 247M286 267C285 267 282 268 281 269C280 271 280 273 280 275C281 276 283 279 284 280M296 271C296 271 295 274 295 276C295 278 295 280 295 281C296 282 298 284 299 285M309 269C309 271 310 275 312 277C314 278 318 278 320 278C323 278 326 277 327 277M319 268C318 268 315 265 312 264C309 263 306 264 304 263C302 262 299 259 298 259M327 268C327 268 329 266 331 265C333 265 335 266 337 265C338 264 340 262 340 261M339 271C338 271 336 269 334 268C332 268 329 268 328 269C326 270 324 273 324 274M346 272C347 272 350 271 352 271C353 272 353 276 354 277C355 279 357 280 358 281M357 269C356 270 352 272 352 274C351 275 353 278 354 279C356 280 360 279 361 279M365 266C365 267 366 270 367 273C368 275 369 278 369 280C369 283 368 286 368 288M380 268C379 268 376 268 374 267C372 266 371 263 369 262C367 262 363 265 362 266M390 270C390 269 392 267 393 266C395 264 396 261 398 261C400 260 404 261 406 261M399 270C400 269 405 269 407 268C408 267 409 266 410 264C410 262 408 259 408 258M405 271C404 270 401 268 399 266C398 265 399 261 397 260C395 259 390 261 389 261M419 269C418 269 416 267 415 266C414 264 414 261 413 260C411 259 408 260 407 259M429 267C430 267 433 266 435 265C437 263 438 261 440 260C442 259 446 259 447 259M438 270C439 269 441 268 443 267C445 267 448 268 449 269C451 269 453 270 454 270M260 278C260 276 260 272 260 270C259 268 257 266 256 264C255 263 253 260 252 259M270 281C269 282 264 284 263 286C263 288 266 290 266 293C265 295 262 299 262 300M282 278C281 278 279 280 277 281C276 282 275 283 273 284C270 284 266 286 265 287M290 281C289 280 288 276 286 274C285 273 281 272 279 272C277 271 275 270 274 270M299 279C299 280 297 281 296 283C295 285 295 288 294 289C292 290 290 290 289 290M314 281C313 282 313 287 312 288C310 290 308 289 306 290C304 290 301 292 300 293M325 280C325 280 322 283 322 285C322 286 325 287 326 289C326 291 325 294 324 295M335 277C335 278 334 281 334 283C334 285 337 289 336 291C335 294 331 296 330 297M343 281C344 281 349 281 350 280C352 278 351 275 352 272C352 270 352 266 352 265M353 278C353 279 354 281 354 283C354 285 354 287 355 289C356 291 360 294 361 295M365 278C364 277 361 275 359 274C357 274 355 273 353 273C352 274 350 276 349 277M375 279C374 280 370 283 368 284C367 286 365 287 365 289C364 290 365 293 365 294M381 277C382 277 385 280 386 282C386 284 384 287 384 289C383 291 383 295 383 296M392 278C393 279 396 282 396 283C396 285 394 286 393 288C391 289 389 292 388 293M404 277C405 278 406 281 408 283C409 285 412 287 413 289C413 292 411 296 411 297M409 276C410 275 413 273 414 271C416 270 417 270 418 269C420 267 423 264 424 263M424 281C425 280 427 279 428 277C428 275 427 273 427 270C427 268 429 264 429 263M434 280C434 279 435 275 433 273C432 271 429 270 426 270C424 270 420 273 418 273M258 288C259 288 263 288 265 289C267 290 268 292 270 292C271 292 275 290 276 289M268 288C268 289 267 292 267 293C268 295 270 298 270 299C270 301 266 304 265 305M280 289C281 290 284 293 285 295C287 297 285 300 287 301C288 302 292 301 293 302M288 289C288 290 285 294 285 296C284 298 285 299 286 301C287 302 289 305 290 306M298 287C299 287 303 285 304 283C305 281 305 277 305 275C305 272 303 269 302 267M306 287C305 286 303 282 302 280C301 278 301 276 299 275C298 274 294 273 293 273M318 292C319 292 322 294 323 295C323 297 321 299 321 300C322 302 325 303 325 304M327 291C328 291 333 290 335 290C337 291 337 294 338 295C340 297 345 297 347 297M339 286C338 286 336 283 334 282C332 281 330 280 329 281C327 281 326 285 325 286M346 292C346 293 345 295 344 297C344 299 345 303 344 305C343 307 340 308 339 309M355 289C354 289 351 287 349 287C347 287 343 287 341 288C339 289 340 293 339 294M369 291C370 290 371 287 372 286C374 286 376 286 378 287C380 288 383 292 384 293M376 288C377 288 380 287 382 288C384 288 386 291 387 291C389 292 391 291 392 291M389 291C389 291 391 289 391 287C391 285 388 282 389 280C390 279 395 276 396 275M397 288C395 288 391 289 389 291C388 293 388 297 387 299C386 301 382 303 381 303M409 290C409 291 409 294 409 296C408 298 406 298 405 300C405 302 405 306 405 307M416 286C417 287 421 287 422 288C422 290 422 295 421 297C420 298 417 298 416 298M425 287C424 286 421 284 419 283C417 283 415 284 413 284C411 284 407 283 406 283M439 291C437 291 433 290 431 291C429 291 427 293 425 294C423 295 420 299 420 300M260 297C262 298 265 301 267 302C269 304 269 305 271 307C273 308 277 311 278 311M272 297C273 296 278 293 278 291C279 289 276 287 276 285C277 283 280 279 281 278M285 296C285 297 288 299 289 301C289 302 287 306 285 307C283 308 280 306 279 306M294 299C294 300 289 302 289 305C288 307 290 309 290 311C291 314 290 316 290 317M302 297C302 298 306 300 307 301C309 303 309 305 310 306C312 307 315 305 316 305M313 297C314 298 316 302 316 304C317 306 316 308 318 309C319 311 323 311 324 311M323 300C324 299 328 299 330 298C332 297 333 296 335 295C336 293 338 289 339 287M331 299C331 301 329 306 328 307C326 308 324 305 321 306C319 306 316 309 315 310M341 296C341 295 344 292 346 290C347 288 349 285 350 283C351 281 352 279 352 278M349 299C350 298 350 296 351 294C352 293 354 291 355 290C357 288 358 286 359 285M361 299C361 298 360 294 362 292C363 290 367 289 368 287C369 285 368 283 368 282M375 302C375 303 373 307 373 310C372 312 373 315 372 318C372 321 370 324 370 325M380 301C381 302 383 306 384 308C384 310 381 311 381 313C381 315 383 318 383 319M392 298C394 298 398 298 400 299C401 300 401 302 402 304C403 306 404 310 404 311M400 301C400 302 402 305 403 307C404 309 404 311 405 313C405 315 407 318 408 319M412 300C411 300 409 302 407 302C406 303 403 302 401 304C399 305 397 309 396 310M424 299C424 300 425 303 427 303C428 304 431 305 433 304C435 303 436 300 437 299M432 296C431 297 427 298 425 298C423 298 421 295 419 295C417 295 415 298 414 299M257 312C256 313 256 318 255 320C254 322 250 323 249 325C248 328 249 332 249 334M267 312C267 310 268 306 269 304C270 303 272 304 274 303C275 302 279 299 280 298M275 311C274 312 273 313 271 314C269 316 265 317 264 319C262 321 263 324 263 325M287 308C288 307 290 305 292 305C294 305 297 307 298 309C299 310 298 313 298 314M299 307C298 306 295 305 294 303C293 302 293 299 293 297C293 294 294 290 295 289M305 312C304 311 301 309 298 308C296 307 292 309 290 309C287 309 285 308 284 308M319 309C319 310 319 312 318 314C317 315 315 316 313 317C311 318 306 318 305 319M328 310C328 311 330 313 332 313C334 313 337 312 339 311C341 311 344 309 345 309M340 307C339 308 338 310 338 312C339 313 342 315 344 315C346 315 348 312 349 312M346 310C344 310 341 311 339 311C337 312 335 313 333 313C332 312 330 309 330 308M355 307C356 305 357 301 357 299C358 297 358 295 357 293C356 292 351 291 350 291M368 308C367 307 363 304 362 302C361 300 360 298 361 297C361 295 364 294 364 293M377 308C379 309 383 312 385 311C387 311 387 306 389 306C391 305 393 307 394 307M385 310C384 309 380 307 378 307C376 306 374 308 373 309C371 310 370 313 370 313M400 311C398 311 394 311 392 310C390 309 388 308 387 306C386 304 385 301 385 299M406 307C407 307 410 307 412 308C413 309 416 312 416 314C417 316 415 320 414 321M416 309C415 309 412 307 409 307C407 307 404 309 402 309C401 308 400 305 399 304M430 306C430 307 434 310 434 312C434 314 431 316 430 319C429 321 430 326 429 327M436 307C437 307 441 306 443 306C446 306 449 307 452 307C454 308 458 308 460 308M263 321C262 321 259 320 257 320C255 320 253 321 251 322C249 322 247 322 246 322M275 317C276 316 279 313 280 311C281 309 282 307 282 305C281 304 278 303 278 302M283 320C284 319 284 317 285 315C286 313 286 311 288 309C290 308 294 308 296 308M295 316C296 317 301 319 303 318C305 318 306 316 307 314C307 313 306 310 306 309M304 321C305 320 305 316 305 314C305 312 305 310 303 309C301 308 297 308 295 308M311 318C311 319 310 322 311 324C312 326 315 328 316 329C318 331 321 332 322 332M325 319C326 319 328 317 329 316C331 315 332 312 333 311C335 310 339 310 340 310M334 319C333 320 332 323 330 323C328 324 326 322 324 323C323 324 323 328 323 329M344 322C345 322 349 321 351 322C352 323 353 324 355 326C356 327 358 329 359 330M354 318C355 317 356 314 358 313C359 312 363 312 364 310C365 309 365 304 365 303M360 321C360 320 362 316 363 314C363 312 363 310 363 308C363 305 361 301 361 300M370 321C371 321 373 318 375 318C377 318 378 320 381 321C383 321 387 322 389 322M381 319C380 318 377 315 376 313C375 311 375 309 374 307C373 305 370 304 370 303M394 320C393 319 390 318 389 316C388 314 389 311 388 309C387 308 383 307 382 307M405 317C406 318 409 320 410 322C411 324 410 326 410 328C411 329 414 331 415 331M411 319C412 320 416 320 416 322C417 324 414 327 414 330C415 332 419 334 420 335M420 318C421 319 424 322 426 323C428 324 429 325 431 326C432 327 434 329 434 330M431 318C432 318 436 318 438 318C441 318 443 320 444 321C446 322 448 325 449 326M255 330C254 330 249 329 247 329C244 330 242 331 240 330C238 330 235 328 234 327M266 330C267 330 271 329 273 330C275 331 277 334 278 336C279 338 280 341 280 342M276 330C277 330 281 331 283 333C285 334 286 337 287 339C289 340 293 340 294 341M287 330C286 330 281 330 279 331C277 332 276 335 275 337C273 338 269 338 268 338M297 332C298 332 301 332 302 334C304 335 305 339 306 341C307 343 308 345 309 346M308 329C308 328 306 324 306 322C307 320 309 319 311 317C312 315 314 311 314 309M316 330C315 330 311 331 310 330C309 329 310 325 308 324C307 323 303 324 302 323M327 326C326 327 322 329 321 331C320 333 319 334 318 336C318 338 320 342 320 344M340 329C339 330 337 333 336 334C336 336 338 338 337 340C337 342 334 345 333 346M348 329C347 329 342 330 340 331C338 333 337 336 335 336C332 337 328 335 327 335M357 328C356 329 353 331 351 333C349 335 348 337 347 340C346 342 347 345 347 346M366 329C367 328 371 328 373 328C375 327 377 326 378 324C379 322 380 319 380 318M377 330C376 329 371 327 370 325C369 323 369 321 370 320C371 318 375 315 376 314M389 327C390 326 393 325 393 324C393 322 390 318 389 316C389 314 389 311 389 310M395 327C394 328 392 330 391 332C391 334 394 338 394 340C394 342 392 344 391 345M410 330C410 329 412 324 414 323C417 322 420 323 422 322C424 320 426 316 426 315M417 330C417 330 414 327 412 326C410 326 408 326 406 327C404 327 403 331 402 332M425 329C425 330 427 332 429 334C430 336 431 340 433 341C435 341 440 339 441 338M437 329C437 328 439 326 439 323C440 321 441 317 440 315C440 313 435 312 435 311M263 336C263 335 261 331 260 329C258 326 255 325 253 323C252 321 249 319 249 318M275 336C275 335 274 332 275 330C276 329 279 328 281 327C283 326 286 324 287 323M284 337C283 338 280 341 278 341C276 342 274 341 272 340C271 339 270 335 269 334M292 338C292 336 290 333 290 331C290 329 292 327 293 325C293 323 293 320 293 319M303 340C302 339 298 337 297 336C296 334 298 330 297 329C296 327 292 327 291 326M309 337C311 337 314 335 316 336C319 336 322 338 324 340C325 341 328 344 328 345M323 340C323 339 321 337 320 335C320 333 319 330 320 329C320 327 323 325 323 324M330 336C332 336 335 335 337 334C339 333 341 330 343 329C346 328 349 329 350 329M341 338C340 339 339 341 337 343C335 345 331 346 330 348C329 350 331 354 332 355M350 337C350 336 353 332 354 330C355 328 356 327 356 325C357 323 357 319 357 318M365 342C364 342 362 344 360 344C358 344 356 343 354 344C353 345 352 347 351 348M369 340C369 341 368 344 367 345C366 346 363 345 362 346C361 348 361 352 361 354M381 340C382 340 386 340 388 340C391 341 394 343 395 345C397 346 397 349 397 350M393 340C392 340 389 338 389 336C389 334 393 331 393 329C393 327 390 326 389 326M403 341C404 341 409 342 411 341C413 340 415 337 416 335C417 333 419 332 419 331M412 339C411 339 408 340 406 339C404 338 403 336 402 334C401 332 400 329 399 328M422 338C423 338 427 337 429 337C432 337 434 338 435 337C437 335 438 330 439 329M434 341C433 342 430 346 428 347C425 348 423 346 420 346C418 347 416 349 415 349M260 348C259 347 258 342 258 340C259 338 262 337 262 335C262 334 259 332 259 331M267 350C268 349 270 348 272 349C274 349 277 352 278 354C279 356 277 360 277 361M276 351C277 350 281 347 282 346C283 344 283 343 284 341C285 339 288 335 289 334M286 351C286 349 287 346 289 344C290 342 293 342 294 340C295 338 295 335 295 334M299 351C298 352 298 357 297 358C296 360 294 361 292 362C290 363 286 364 285 365M310 349C309 349 306 348 304 349C302 349 301 352 300 352C298 353 295 353 294 354M318 348C317 349 316 352 314 352C313 352 311 349 309 349C307 349 303 352 302 353M329 347C328 347 324 345 322 346C321 346 321 350 320 350C318 350 313 348 312 348M337 349C336 350 335 354 333 354C331 354 327 353 325 351C324 349 323 344 323 343M346 346C347 347 349 349 351 348C352 348 354 344 356 344C358 343 361 345 362 345M360 351C361 352 363 355 365 355C367 356 371 354 373 353C375 351 376 348 377 347M368 352C367 351 366 348 364 347C361 346 357 349 355 348C353 347 353 343 353 343M375 348C373 347 368 347 366 347C365 346 364 344 364 342C363 340 365 336 365 335M388 352C389 351 392 348 395 348C397 348 399 351 401 352C403 352 407 352 408 352M399 347C399 348 399 350 400 352C400 354 400 356 401 357C402 359 405 360 405 361M408 346C408 346 405 345 404 343C403 342 403 339 405 338C406 336 411 335 412 335M420 347C419 348 419 353 418 355C417 357 414 357 412 358C410 359 408 361 407 362M429 349C428 349 425 348 424 350C422 351 422 355 421 357C421 359 419 361 419 362M440 348C439 349 440 352 439 354C438 355 435 355 434 357C433 358 433 362 433 363M261 361C261 362 261 365 259 366C258 367 254 366 252 367C250 368 249 372 248 373M271 358C272 359 276 362 276 364C276 366 272 369 271 371C271 373 273 375 274 376M285 356C284 355 281 350 279 350C277 349 274 352 272 353C270 354 269 356 268 357M289 361C288 362 286 365 284 365C282 365 280 364 279 363C277 362 275 360 274 359M300 361C300 360 298 358 296 358C294 358 292 360 290 362C288 363 285 364 285 365M311 360C311 359 314 355 314 354C315 352 313 350 313 349C313 347 315 344 315 343M324 356C324 355 322 350 323 348C324 346 328 346 328 344C329 342 326 338 326 337M332 361C333 362 336 366 337 367C339 369 340 369 342 370C344 371 348 371 349 371M339 359C338 359 336 361 334 361C332 361 328 360 327 359C325 357 325 354 324 353M354 358C352 358 347 357 346 355C345 353 346 350 347 348C347 346 347 342 347 341M363 356C363 355 366 353 366 352C366 350 364 348 364 346C364 345 365 342 366 342M370 360C371 360 375 360 377 360C379 360 382 360 384 361C386 362 387 364 388 365M385 360C385 360 388 357 390 356C391 355 394 354 394 352C395 350 394 347 394 346M390 360C390 358 388 355 389 353C389 351 389 349 391 348C393 346 397 346 399 345M402 359C402 358 403 354 405 353C407 353 411 355 413 355C415 355 418 354 419 354M411 359C412 359 417 362 418 364C419 366 417 370 418 372C420 373 424 373 425 374M425 362C425 363 426 367 427 369C427 371 428 374 430 374C432 375 436 374 437 374M432 356C432 357 430 362 428 363C427 364 423 363 421 362C419 361 417 357 416 356" stroke="#f7b59c" stroke-width="2.6" opacity="0.9" transform="translate(1.5,1.3)"/><path d="M256 247C255 247 251 247 249 248C248 249 246 250 245 251C243 251 241 253 240 253M267 246C268 247 272 249 274 249C276 249 277 247 279 246C281 245 286 244 287 244M278 248C278 247 280 243 280 241C280 238 279 237 278 235C277 234 273 234 272 234M289 247C289 246 286 244 285 242C284 241 284 238 282 238C281 237 278 239 277 239M298 249C298 249 295 252 295 254C294 256 294 260 294 262C293 264 291 266 290 266M308 249C309 249 312 247 314 248C315 249 315 251 316 253C318 254 321 257 321 258M315 249C316 250 319 252 321 254C323 256 324 258 326 260C328 261 332 262 333 263M328 249C327 249 323 246 321 245C319 243 317 241 315 241C313 241 310 244 309 245M338 252C338 251 337 248 337 246C338 244 339 243 339 241C340 239 340 236 340 235M345 246C344 246 343 244 341 242C339 241 335 239 333 239C331 239 329 242 328 243M358 251C359 251 362 251 363 250C365 250 367 247 369 248C371 248 375 252 376 252M365 247C366 248 369 250 370 252C371 253 372 256 373 257C375 257 378 255 379 255M377 249C378 250 381 250 383 251C385 252 387 255 390 254C392 254 395 250 396 249M389 251C389 250 390 247 389 245C388 243 385 241 383 241C381 241 379 243 379 244M396 247C396 248 397 250 398 251C400 252 402 252 404 251C405 251 408 250 409 250M410 250C411 250 414 251 416 251C417 252 419 250 421 251C423 252 426 256 427 257M417 249C418 248 421 248 423 246C424 244 426 241 426 239C426 237 424 235 424 234M430 249C430 250 432 252 433 254C434 256 436 259 436 261C436 263 434 267 433 268M436 248C436 249 436 253 435 255C434 257 431 257 430 259C429 261 429 265 428 266M265 261C266 261 271 260 272 258C274 257 275 254 275 252C276 250 276 248 276 247M269 258C269 259 266 262 265 265C264 267 264 271 262 272C260 273 255 271 253 271M281 257C282 258 285 259 286 261C288 262 290 265 291 267C291 270 289 273 289 274M293 261C294 262 297 265 298 267C299 270 297 273 297 275C297 277 297 280 297 281M304 258C305 258 308 258 310 258C313 257 316 256 318 255C321 255 323 257 324 257M310 257C311 257 314 257 315 258C317 259 319 263 320 265C321 268 320 270 320 271M323 257C323 258 324 261 324 264C325 266 325 269 326 272C327 275 328 278 329 279M334 257C335 258 336 261 337 262C338 264 338 266 339 268C340 270 341 272 342 273M345 258C343 258 339 258 337 259C334 259 331 260 329 261C326 261 323 262 322 262M352 256C352 257 352 260 351 261C349 262 347 262 346 263C344 264 340 266 339 267M363 258C361 258 357 256 355 256C353 256 351 259 350 261C349 263 349 266 349 267M374 259C373 258 371 254 370 252C369 250 367 248 366 246C364 244 362 242 362 241M383 259C382 259 378 259 375 257C373 256 370 254 369 252C368 251 370 248 370 247M393 262C392 261 391 258 391 257C390 255 389 253 388 252C387 251 384 251 383 250M403 261C403 259 403 255 403 253C404 251 404 249 406 248C408 247 413 247 414 247M411 262C410 263 406 266 404 267C402 268 401 266 399 266C396 266 393 266 392 266M421 257C421 258 419 259 417 260C415 261 412 261 411 263C410 264 412 268 412 269M433 259C433 260 433 265 432 267C431 268 429 267 427 268C426 269 424 271 424 272M259 268C260 268 264 271 266 272C267 274 265 277 266 278C268 280 272 282 274 282M268 270C269 270 272 267 274 266C276 265 276 263 278 262C279 262 283 264 284 265M279 267C279 265 277 261 276 259C274 257 273 256 272 254C271 252 269 248 269 247M286 267C285 267 282 268 281 269C280 271 280 273 280 275C281 276 283 279 284 280M296 271C296 271 295 274 295 276C295 278 295 280 295 281C296 282 298 284 299 285M309 269C309 271 310 275 312 277C314 278 318 278 320 278C323 278 326 277 327 277M319 268C318 268 315 265 312 264C309 263 306 264 304 263C302 262 299 259 298 259M327 268C327 268 329 266 331 265C333 265 335 266 337 265C338 264 340 262 340 261M339 271C338 271 336 269 334 268C332 268 329 268 328 269C326 270 324 273 324 274M346 272C347 272 350 271 352 271C353 272 353 276 354 277C355 279 357 280 358 281M357 269C356 270 352 272 352 274C351 275 353 278 354 279C356 280 360 279 361 279M365 266C365 267 366 270 367 273C368 275 369 278 369 280C369 283 368 286 368 288M380 268C379 268 376 268 374 267C372 266 371 263 369 262C367 262 363 265 362 266M390 270C390 269 392 267 393 266C395 264 396 261 398 261C400 260 404 261 406 261M399 270C400 269 405 269 407 268C408 267 409 266 410 264C410 262 408 259 408 258M405 271C404 270 401 268 399 266C398 265 399 261 397 260C395 259 390 261 389 261M419 269C418 269 416 267 415 266C414 264 414 261 413 260C411 259 408 260 407 259M429 267C430 267 433 266 435 265C437 263 438 261 440 260C442 259 446 259 447 259M438 270C439 269 441 268 443 267C445 267 448 268 449 269C451 269 453 270 454 270M260 278C260 276 260 272 260 270C259 268 257 266 256 264C255 263 253 260 252 259M270 281C269 282 264 284 263 286C263 288 266 290 266 293C265 295 262 299 262 300M282 278C281 278 279 280 277 281C276 282 275 283 273 284C270 284 266 286 265 287M290 281C289 280 288 276 286 274C285 273 281 272 279 272C277 271 275 270 274 270M299 279C299 280 297 281 296 283C295 285 295 288 294 289C292 290 290 290 289 290M314 281C313 282 313 287 312 288C310 290 308 289 306 290C304 290 301 292 300 293M325 280C325 280 322 283 322 285C322 286 325 287 326 289C326 291 325 294 324 295M335 277C335 278 334 281 334 283C334 285 337 289 336 291C335 294 331 296 330 297M343 281C344 281 349 281 350 280C352 278 351 275 352 272C352 270 352 266 352 265M353 278C353 279 354 281 354 283C354 285 354 287 355 289C356 291 360 294 361 295M365 278C364 277 361 275 359 274C357 274 355 273 353 273C352 274 350 276 349 277M375 279C374 280 370 283 368 284C367 286 365 287 365 289C364 290 365 293 365 294M381 277C382 277 385 280 386 282C386 284 384 287 384 289C383 291 383 295 383 296M392 278C393 279 396 282 396 283C396 285 394 286 393 288C391 289 389 292 388 293M404 277C405 278 406 281 408 283C409 285 412 287 413 289C413 292 411 296 411 297M409 276C410 275 413 273 414 271C416 270 417 270 418 269C420 267 423 264 424 263M424 281C425 280 427 279 428 277C428 275 427 273 427 270C427 268 429 264 429 263M434 280C434 279 435 275 433 273C432 271 429 270 426 270C424 270 420 273 418 273M258 288C259 288 263 288 265 289C267 290 268 292 270 292C271 292 275 290 276 289M268 288C268 289 267 292 267 293C268 295 270 298 270 299C270 301 266 304 265 305M280 289C281 290 284 293 285 295C287 297 285 300 287 301C288 302 292 301 293 302M288 289C288 290 285 294 285 296C284 298 285 299 286 301C287 302 289 305 290 306M298 287C299 287 303 285 304 283C305 281 305 277 305 275C305 272 303 269 302 267M306 287C305 286 303 282 302 280C301 278 301 276 299 275C298 274 294 273 293 273M318 292C319 292 322 294 323 295C323 297 321 299 321 300C322 302 325 303 325 304M327 291C328 291 333 290 335 290C337 291 337 294 338 295C340 297 345 297 347 297M339 286C338 286 336 283 334 282C332 281 330 280 329 281C327 281 326 285 325 286M346 292C346 293 345 295 344 297C344 299 345 303 344 305C343 307 340 308 339 309M355 289C354 289 351 287 349 287C347 287 343 287 341 288C339 289 340 293 339 294M369 291C370 290 371 287 372 286C374 286 376 286 378 287C380 288 383 292 384 293M376 288C377 288 380 287 382 288C384 288 386 291 387 291C389 292 391 291 392 291M389 291C389 291 391 289 391 287C391 285 388 282 389 280C390 279 395 276 396 275M397 288C395 288 391 289 389 291C388 293 388 297 387 299C386 301 382 303 381 303M409 290C409 291 409 294 409 296C408 298 406 298 405 300C405 302 405 306 405 307M416 286C417 287 421 287 422 288C422 290 422 295 421 297C420 298 417 298 416 298M425 287C424 286 421 284 419 283C417 283 415 284 413 284C411 284 407 283 406 283M439 291C437 291 433 290 431 291C429 291 427 293 425 294C423 295 420 299 420 300M260 297C262 298 265 301 267 302C269 304 269 305 271 307C273 308 277 311 278 311M272 297C273 296 278 293 278 291C279 289 276 287 276 285C277 283 280 279 281 278M285 296C285 297 288 299 289 301C289 302 287 306 285 307C283 308 280 306 279 306M294 299C294 300 289 302 289 305C288 307 290 309 290 311C291 314 290 316 290 317M302 297C302 298 306 300 307 301C309 303 309 305 310 306C312 307 315 305 316 305M313 297C314 298 316 302 316 304C317 306 316 308 318 309C319 311 323 311 324 311M323 300C324 299 328 299 330 298C332 297 333 296 335 295C336 293 338 289 339 287M331 299C331 301 329 306 328 307C326 308 324 305 321 306C319 306 316 309 315 310M341 296C341 295 344 292 346 290C347 288 349 285 350 283C351 281 352 279 352 278M349 299C350 298 350 296 351 294C352 293 354 291 355 290C357 288 358 286 359 285M361 299C361 298 360 294 362 292C363 290 367 289 368 287C369 285 368 283 368 282M375 302C375 303 373 307 373 310C372 312 373 315 372 318C372 321 370 324 370 325M380 301C381 302 383 306 384 308C384 310 381 311 381 313C381 315 383 318 383 319M392 298C394 298 398 298 400 299C401 300 401 302 402 304C403 306 404 310 404 311M400 301C400 302 402 305 403 307C404 309 404 311 405 313C405 315 407 318 408 319M412 300C411 300 409 302 407 302C406 303 403 302 401 304C399 305 397 309 396 310M424 299C424 300 425 303 427 303C428 304 431 305 433 304C435 303 436 300 437 299M432 296C431 297 427 298 425 298C423 298 421 295 419 295C417 295 415 298 414 299M257 312C256 313 256 318 255 320C254 322 250 323 249 325C248 328 249 332 249 334M267 312C267 310 268 306 269 304C270 303 272 304 274 303C275 302 279 299 280 298M275 311C274 312 273 313 271 314C269 316 265 317 264 319C262 321 263 324 263 325M287 308C288 307 290 305 292 305C294 305 297 307 298 309C299 310 298 313 298 314M299 307C298 306 295 305 294 303C293 302 293 299 293 297C293 294 294 290 295 289M305 312C304 311 301 309 298 308C296 307 292 309 290 309C287 309 285 308 284 308M319 309C319 310 319 312 318 314C317 315 315 316 313 317C311 318 306 318 305 319M328 310C328 311 330 313 332 313C334 313 337 312 339 311C341 311 344 309 345 309M340 307C339 308 338 310 338 312C339 313 342 315 344 315C346 315 348 312 349 312M346 310C344 310 341 311 339 311C337 312 335 313 333 313C332 312 330 309 330 308M355 307C356 305 357 301 357 299C358 297 358 295 357 293C356 292 351 291 350 291M368 308C367 307 363 304 362 302C361 300 360 298 361 297C361 295 364 294 364 293M377 308C379 309 383 312 385 311C387 311 387 306 389 306C391 305 393 307 394 307M385 310C384 309 380 307 378 307C376 306 374 308 373 309C371 310 370 313 370 313M400 311C398 311 394 311 392 310C390 309 388 308 387 306C386 304 385 301 385 299M406 307C407 307 410 307 412 308C413 309 416 312 416 314C417 316 415 320 414 321M416 309C415 309 412 307 409 307C407 307 404 309 402 309C401 308 400 305 399 304M430 306C430 307 434 310 434 312C434 314 431 316 430 319C429 321 430 326 429 327M436 307C437 307 441 306 443 306C446 306 449 307 452 307C454 308 458 308 460 308M263 321C262 321 259 320 257 320C255 320 253 321 251 322C249 322 247 322 246 322M275 317C276 316 279 313 280 311C281 309 282 307 282 305C281 304 278 303 278 302M283 320C284 319 284 317 285 315C286 313 286 311 288 309C290 308 294 308 296 308M295 316C296 317 301 319 303 318C305 318 306 316 307 314C307 313 306 310 306 309M304 321C305 320 305 316 305 314C305 312 305 310 303 309C301 308 297 308 295 308M311 318C311 319 310 322 311 324C312 326 315 328 316 329C318 331 321 332 322 332M325 319C326 319 328 317 329 316C331 315 332 312 333 311C335 310 339 310 340 310M334 319C333 320 332 323 330 323C328 324 326 322 324 323C323 324 323 328 323 329M344 322C345 322 349 321 351 322C352 323 353 324 355 326C356 327 358 329 359 330M354 318C355 317 356 314 358 313C359 312 363 312 364 310C365 309 365 304 365 303M360 321C360 320 362 316 363 314C363 312 363 310 363 308C363 305 361 301 361 300M370 321C371 321 373 318 375 318C377 318 378 320 381 321C383 321 387 322 389 322M381 319C380 318 377 315 376 313C375 311 375 309 374 307C373 305 370 304 370 303M394 320C393 319 390 318 389 316C388 314 389 311 388 309C387 308 383 307 382 307M405 317C406 318 409 320 410 322C411 324 410 326 410 328C411 329 414 331 415 331M411 319C412 320 416 320 416 322C417 324 414 327 414 330C415 332 419 334 420 335M420 318C421 319 424 322 426 323C428 324 429 325 431 326C432 327 434 329 434 330M431 318C432 318 436 318 438 318C441 318 443 320 444 321C446 322 448 325 449 326M255 330C254 330 249 329 247 329C244 330 242 331 240 330C238 330 235 328 234 327M266 330C267 330 271 329 273 330C275 331 277 334 278 336C279 338 280 341 280 342M276 330C277 330 281 331 283 333C285 334 286 337 287 339C289 340 293 340 294 341M287 330C286 330 281 330 279 331C277 332 276 335 275 337C273 338 269 338 268 338M297 332C298 332 301 332 302 334C304 335 305 339 306 341C307 343 308 345 309 346M308 329C308 328 306 324 306 322C307 320 309 319 311 317C312 315 314 311 314 309M316 330C315 330 311 331 310 330C309 329 310 325 308 324C307 323 303 324 302 323M327 326C326 327 322 329 321 331C320 333 319 334 318 336C318 338 320 342 320 344M340 329C339 330 337 333 336 334C336 336 338 338 337 340C337 342 334 345 333 346M348 329C347 329 342 330 340 331C338 333 337 336 335 336C332 337 328 335 327 335M357 328C356 329 353 331 351 333C349 335 348 337 347 340C346 342 347 345 347 346M366 329C367 328 371 328 373 328C375 327 377 326 378 324C379 322 380 319 380 318M377 330C376 329 371 327 370 325C369 323 369 321 370 320C371 318 375 315 376 314M389 327C390 326 393 325 393 324C393 322 390 318 389 316C389 314 389 311 389 310M395 327C394 328 392 330 391 332C391 334 394 338 394 340C394 342 392 344 391 345M410 330C410 329 412 324 414 323C417 322 420 323 422 322C424 320 426 316 426 315M417 330C417 330 414 327 412 326C410 326 408 326 406 327C404 327 403 331 402 332M425 329C425 330 427 332 429 334C430 336 431 340 433 341C435 341 440 339 441 338M437 329C437 328 439 326 439 323C440 321 441 317 440 315C440 313 435 312 435 311M263 336C263 335 261 331 260 329C258 326 255 325 253 323C252 321 249 319 249 318M275 336C275 335 274 332 275 330C276 329 279 328 281 327C283 326 286 324 287 323M284 337C283 338 280 341 278 341C276 342 274 341 272 340C271 339 270 335 269 334M292 338C292 336 290 333 290 331C290 329 292 327 293 325C293 323 293 320 293 319M303 340C302 339 298 337 297 336C296 334 298 330 297 329C296 327 292 327 291 326M309 337C311 337 314 335 316 336C319 336 322 338 324 340C325 341 328 344 328 345M323 340C323 339 321 337 320 335C320 333 319 330 320 329C320 327 323 325 323 324M330 336C332 336 335 335 337 334C339 333 341 330 343 329C346 328 349 329 350 329M341 338C340 339 339 341 337 343C335 345 331 346 330 348C329 350 331 354 332 355M350 337C350 336 353 332 354 330C355 328 356 327 356 325C357 323 357 319 357 318M365 342C364 342 362 344 360 344C358 344 356 343 354 344C353 345 352 347 351 348M369 340C369 341 368 344 367 345C366 346 363 345 362 346C361 348 361 352 361 354M381 340C382 340 386 340 388 340C391 341 394 343 395 345C397 346 397 349 397 350M393 340C392 340 389 338 389 336C389 334 393 331 393 329C393 327 390 326 389 326M403 341C404 341 409 342 411 341C413 340 415 337 416 335C417 333 419 332 419 331M412 339C411 339 408 340 406 339C404 338 403 336 402 334C401 332 400 329 399 328M422 338C423 338 427 337 429 337C432 337 434 338 435 337C437 335 438 330 439 329M434 341C433 342 430 346 428 347C425 348 423 346 420 346C418 347 416 349 415 349M260 348C259 347 258 342 258 340C259 338 262 337 262 335C262 334 259 332 259 331M267 350C268 349 270 348 272 349C274 349 277 352 278 354C279 356 277 360 277 361M276 351C277 350 281 347 282 346C283 344 283 343 284 341C285 339 288 335 289 334M286 351C286 349 287 346 289 344C290 342 293 342 294 340C295 338 295 335 295 334M299 351C298 352 298 357 297 358C296 360 294 361 292 362C290 363 286 364 285 365M310 349C309 349 306 348 304 349C302 349 301 352 300 352C298 353 295 353 294 354M318 348C317 349 316 352 314 352C313 352 311 349 309 349C307 349 303 352 302 353M329 347C328 347 324 345 322 346C321 346 321 350 320 350C318 350 313 348 312 348M337 349C336 350 335 354 333 354C331 354 327 353 325 351C324 349 323 344 323 343M346 346C347 347 349 349 351 348C352 348 354 344 356 344C358 343 361 345 362 345M360 351C361 352 363 355 365 355C367 356 371 354 373 353C375 351 376 348 377 347M368 352C367 351 366 348 364 347C361 346 357 349 355 348C353 347 353 343 353 343M375 348C373 347 368 347 366 347C365 346 364 344 364 342C363 340 365 336 365 335M388 352C389 351 392 348 395 348C397 348 399 351 401 352C403 352 407 352 408 352M399 347C399 348 399 350 400 352C400 354 400 356 401 357C402 359 405 360 405 361M408 346C408 346 405 345 404 343C403 342 403 339 405 338C406 336 411 335 412 335M420 347C419 348 419 353 418 355C417 357 414 357 412 358C410 359 408 361 407 362M429 349C428 349 425 348 424 350C422 351 422 355 421 357C421 359 419 361 419 362M440 348C439 349 440 352 439 354C438 355 435 355 434 357C433 358 433 362 433 363M261 361C261 362 261 365 259 366C258 367 254 366 252 367C250 368 249 372 248 373M271 358C272 359 276 362 276 364C276 366 272 369 271 371C271 373 273 375 274 376M285 356C284 355 281 350 279 350C277 349 274 352 272 353C270 354 269 356 268 357M289 361C288 362 286 365 284 365C282 365 280 364 279 363C277 362 275 360 274 359M300 361C300 360 298 358 296 358C294 358 292 360 290 362C288 363 285 364 285 365M311 360C311 359 314 355 314 354C315 352 313 350 313 349C313 347 315 344 315 343M324 356C324 355 322 350 323 348C324 346 328 346 328 344C329 342 326 338 326 337M332 361C333 362 336 366 337 367C339 369 340 369 342 370C344 371 348 371 349 371M339 359C338 359 336 361 334 361C332 361 328 360 327 359C325 357 325 354 324 353M354 358C352 358 347 357 346 355C345 353 346 350 347 348C347 346 347 342 347 341M363 356C363 355 366 353 366 352C366 350 364 348 364 346C364 345 365 342 366 342M370 360C371 360 375 360 377 360C379 360 382 360 384 361C386 362 387 364 388 365M385 360C385 360 388 357 390 356C391 355 394 354 394 352C395 350 394 347 394 346M390 360C390 358 388 355 389 353C389 351 389 349 391 348C393 346 397 346 399 345M402 359C402 358 403 354 405 353C407 353 411 355 413 355C415 355 418 354 419 354M411 359C412 359 417 362 418 364C419 366 417 370 418 372C420 373 424 373 425 374M425 362C425 363 426 367 427 369C427 371 428 374 430 374C432 375 436 374 437 374M432 356C432 357 430 362 428 363C427 364 423 363 421 362C419 361 417 357 416 356" stroke="#c9604c" stroke-width="1.0" opacity="0.95"/></g>
<path d="M277.8,264.5 C278.6,261.4 284.4,259.2 289.7,257.2 C295.0,255.2 302.9,253.8 309.5,252.6 C316.1,251.4 322.6,250.6 329.4,250.0 C336.1,249.4 344.4,249.0 350.0,249.3 C355.6,249.6 361.7,250.7 363.0,251.8 C364.3,252.9 359.8,254.3 358.0,256.0 C356.2,257.7 354.2,260.0 352.0,262.0 C349.8,264.0 347.3,265.8 345.0,268.0 C342.7,270.2 341.3,272.8 338.0,275.0 C334.7,277.2 328.3,280.2 325.0,281.0 C321.7,281.8 320.8,279.8 318.0,280.0 C315.2,280.2 311.0,281.3 308.0,282.0 C305.0,282.7 302.7,284.3 300.0,284.0 C297.3,283.7 294.5,281.3 292.0,280.0 C289.5,278.7 287.4,278.6 285.0,276.0 C282.6,273.4 277.0,267.6 277.8,264.5Z" fill="#c89dc6"/>
<clipPath id="cp_pur"><path d="M277.8,264.5 C278.6,261.4 284.4,259.2 289.7,257.2 C295.0,255.2 302.9,253.8 309.5,252.6 C316.1,251.4 322.6,250.6 329.4,250.0 C336.1,249.4 344.4,249.0 350.0,249.3 C355.6,249.6 361.7,250.7 363.0,251.8 C364.3,252.9 359.8,254.3 358.0,256.0 C356.2,257.7 354.2,260.0 352.0,262.0 C349.8,264.0 347.3,265.8 345.0,268.0 C342.7,270.2 341.3,272.8 338.0,275.0 C334.7,277.2 328.3,280.2 325.0,281.0 C321.7,281.8 320.8,279.8 318.0,280.0 C315.2,280.2 311.0,281.3 308.0,282.0 C305.0,282.7 302.7,284.3 300.0,284.0 C297.3,283.7 294.5,281.3 292.0,280.0 C289.5,278.7 287.4,278.6 285.0,276.0 C282.6,273.4 277.0,267.6 277.8,264.5Z"/></clipPath>
<g clip-path="url(#cp_pur)" fill="none" stroke-linecap="round"><path d="M280 247C279 246 275 244 273 244C271 244 268 247 266 247C265 246 262 242 261 241M286 249C286 249 284 246 282 245C280 244 277 243 275 244C273 244 271 247 270 248M301 249C301 251 300 255 300 256C301 258 303 259 305 260C306 260 309 258 310 258M307 248C308 249 312 249 313 251C315 253 315 256 315 258C315 260 315 264 315 265M316 251C315 251 311 251 309 251C307 252 305 252 303 253C301 254 300 256 299 257M328 249C327 249 325 252 323 253C322 253 320 252 318 252C316 251 312 250 311 249M337 252C336 253 332 253 332 255C331 257 333 261 333 263C333 265 334 267 334 268M347 249C346 249 343 248 342 246C341 245 343 241 343 239C342 237 339 235 338 235M357 250C357 249 357 245 357 242C358 240 357 237 358 235C359 233 363 230 364 229M283 261C283 260 285 258 287 257C288 257 290 257 292 258C293 259 295 263 296 264M293 262C292 262 287 262 285 260C284 259 284 256 283 254C282 252 279 249 279 248M303 261C303 262 302 265 303 268C303 270 305 271 305 273C304 276 302 279 301 281M313 259C314 260 316 261 317 262C319 264 320 267 322 268C324 268 329 266 330 266M322 261C323 262 325 262 327 262C330 262 334 263 336 262C337 261 337 258 337 257M333 259C334 260 339 259 340 261C341 262 340 265 340 267C340 270 341 274 341 275M342 258C341 258 336 258 334 257C332 256 330 253 329 253C327 252 324 254 323 255M352 260C352 258 352 254 351 251C351 249 350 247 350 245C350 242 351 238 352 237M362 259C361 259 359 256 359 254C360 252 363 250 365 248C366 247 368 245 369 245M280 270C282 271 286 271 288 272C290 272 292 272 294 271C296 271 298 268 299 267M288 267C288 269 288 272 288 275C289 277 292 280 292 282C293 284 293 286 293 287M297 271C297 272 295 273 293 274C292 276 292 280 291 282C290 284 288 287 287 288M306 269C305 270 302 271 299 271C296 272 293 273 291 273C288 273 285 273 284 273M316 267C315 267 313 264 311 264C309 264 307 266 305 266C302 266 300 263 299 262M330 267C330 267 333 269 334 271C335 273 334 276 335 277C337 279 340 279 341 280M335 272C334 272 331 271 329 271C327 271 325 273 324 272C322 271 320 267 319 267M351 269C350 269 347 270 345 268C344 267 344 263 343 261C341 259 338 256 337 255M360 268C360 267 360 263 361 262C363 260 365 261 367 261C369 260 373 258 374 258M281 278C282 277 285 274 286 272C287 271 287 269 287 267C287 265 285 262 285 261M296 278C295 279 292 281 290 282C288 284 286 285 286 287C286 289 288 291 289 292M305 278C305 279 308 282 309 282C311 283 313 282 314 283C316 283 319 285 320 286M311 281C312 281 317 281 319 280C321 279 320 276 322 275C324 274 329 274 330 274M321 278C320 277 319 273 317 271C315 269 311 269 309 268C307 268 304 267 303 267M333 277C331 276 328 274 326 272C324 270 324 268 322 267C320 266 316 266 315 265M341 282C342 282 344 285 346 287C348 288 351 288 353 288C356 288 359 288 361 287M353 278C353 279 355 282 354 284C354 285 352 287 350 288C349 289 346 290 345 291M363 278C362 279 360 280 359 281C357 282 356 284 356 286C356 288 358 292 359 293" stroke="#dcbcd8" stroke-width="2.6" opacity="0.9" transform="translate(1.5,1.3)"/><path d="M280 247C279 246 275 244 273 244C271 244 268 247 266 247C265 246 262 242 261 241M286 249C286 249 284 246 282 245C280 244 277 243 275 244C273 244 271 247 270 248M301 249C301 251 300 255 300 256C301 258 303 259 305 260C306 260 309 258 310 258M307 248C308 249 312 249 313 251C315 253 315 256 315 258C315 260 315 264 315 265M316 251C315 251 311 251 309 251C307 252 305 252 303 253C301 254 300 256 299 257M328 249C327 249 325 252 323 253C322 253 320 252 318 252C316 251 312 250 311 249M337 252C336 253 332 253 332 255C331 257 333 261 333 263C333 265 334 267 334 268M347 249C346 249 343 248 342 246C341 245 343 241 343 239C342 237 339 235 338 235M357 250C357 249 357 245 357 242C358 240 357 237 358 235C359 233 363 230 364 229M283 261C283 260 285 258 287 257C288 257 290 257 292 258C293 259 295 263 296 264M293 262C292 262 287 262 285 260C284 259 284 256 283 254C282 252 279 249 279 248M303 261C303 262 302 265 303 268C303 270 305 271 305 273C304 276 302 279 301 281M313 259C314 260 316 261 317 262C319 264 320 267 322 268C324 268 329 266 330 266M322 261C323 262 325 262 327 262C330 262 334 263 336 262C337 261 337 258 337 257M333 259C334 260 339 259 340 261C341 262 340 265 340 267C340 270 341 274 341 275M342 258C341 258 336 258 334 257C332 256 330 253 329 253C327 252 324 254 323 255M352 260C352 258 352 254 351 251C351 249 350 247 350 245C350 242 351 238 352 237M362 259C361 259 359 256 359 254C360 252 363 250 365 248C366 247 368 245 369 245M280 270C282 271 286 271 288 272C290 272 292 272 294 271C296 271 298 268 299 267M288 267C288 269 288 272 288 275C289 277 292 280 292 282C293 284 293 286 293 287M297 271C297 272 295 273 293 274C292 276 292 280 291 282C290 284 288 287 287 288M306 269C305 270 302 271 299 271C296 272 293 273 291 273C288 273 285 273 284 273M316 267C315 267 313 264 311 264C309 264 307 266 305 266C302 266 300 263 299 262M330 267C330 267 333 269 334 271C335 273 334 276 335 277C337 279 340 279 341 280M335 272C334 272 331 271 329 271C327 271 325 273 324 272C322 271 320 267 319 267M351 269C350 269 347 270 345 268C344 267 344 263 343 261C341 259 338 256 337 255M360 268C360 267 360 263 361 262C363 260 365 261 367 261C369 260 373 258 374 258M281 278C282 277 285 274 286 272C287 271 287 269 287 267C287 265 285 262 285 261M296 278C295 279 292 281 290 282C288 284 286 285 286 287C286 289 288 291 289 292M305 278C305 279 308 282 309 282C311 283 313 282 314 283C316 283 319 285 320 286M311 281C312 281 317 281 319 280C321 279 320 276 322 275C324 274 329 274 330 274M321 278C320 277 319 273 317 271C315 269 311 269 309 268C307 268 304 267 303 267M333 277C331 276 328 274 326 272C324 270 324 268 322 267C320 266 316 266 315 265M341 282C342 282 344 285 346 287C348 288 351 288 353 288C356 288 359 288 361 287M353 278C353 279 355 282 354 284C354 285 352 287 350 288C349 289 346 290 345 291M363 278C362 279 360 280 359 281C357 282 356 284 356 286C356 288 358 292 359 293" stroke="#a97aa6" stroke-width="1.0" opacity="0.95"/></g>
<path d="M296.0,282.0 C298.5,278.7 308.3,278.7 312.0,280.0 C315.7,281.3 317.5,285.0 318.0,290.0 C318.5,295.0 316.5,304.7 315.0,310.0 C313.5,315.3 310.8,319.3 309.0,322.0 C307.2,324.7 305.5,327.3 304.0,326.0 C302.5,324.7 301.2,318.3 300.0,314.0 C298.8,309.7 297.7,305.3 297.0,300.0 C296.3,294.7 293.5,285.3 296.0,282.0Z" fill="#cf9fb6"/>
<ellipse cx="308.5" cy="293.5" rx="11" ry="15" fill="#f6cb64"/>
<path d="M306,284 Q312,288 310,300 Q309,306 306,308" fill="none" stroke="#e39a3c" stroke-width="1.4"/>
<path d="M309.5,320.0 C308.5,316.3 310.0,306.7 312.0,300.0 C314.0,293.3 318.1,284.4 321.4,279.7 C324.7,275.0 328.6,274.4 332.0,272.0 C335.4,269.6 339.0,267.3 342.0,265.0 C345.0,262.7 347.3,260.0 350.0,258.0 C352.7,256.0 355.8,254.0 358.0,253.0 C360.2,252.0 360.5,251.9 363.0,252.0 C365.5,252.1 371.8,252.5 373.0,253.5 C374.2,254.5 372.2,256.6 370.0,258.0 C367.8,259.4 363.0,260.0 360.0,262.0 C357.0,264.0 354.8,267.3 352.0,270.0 C349.2,272.7 345.8,275.0 343.0,278.0 C340.2,281.0 337.2,284.3 335.0,288.0 C332.8,291.7 331.7,295.8 330.0,300.0 C328.3,304.2 327.0,309.3 325.0,313.0 C323.0,316.7 320.6,320.8 318.0,322.0 C315.4,323.2 310.5,323.7 309.5,320.0Z" fill="#c5dc9b"/>
<clipPath id="cp_mot"><path d="M309.5,320.0 C308.5,316.3 310.0,306.7 312.0,300.0 C314.0,293.3 318.1,284.4 321.4,279.7 C324.7,275.0 328.6,274.4 332.0,272.0 C335.4,269.6 339.0,267.3 342.0,265.0 C345.0,262.7 347.3,260.0 350.0,258.0 C352.7,256.0 355.8,254.0 358.0,253.0 C360.2,252.0 360.5,251.9 363.0,252.0 C365.5,252.1 371.8,252.5 373.0,253.5 C374.2,254.5 372.2,256.6 370.0,258.0 C367.8,259.4 363.0,260.0 360.0,262.0 C357.0,264.0 354.8,267.3 352.0,270.0 C349.2,272.7 345.8,275.0 343.0,278.0 C340.2,281.0 337.2,284.3 335.0,288.0 C332.8,291.7 331.7,295.8 330.0,300.0 C328.3,304.2 327.0,309.3 325.0,313.0 C323.0,316.7 320.6,320.8 318.0,322.0 C315.4,323.2 310.5,323.7 309.5,320.0Z"/></clipPath>
<g clip-path="url(#cp_mot)" fill="none" stroke-linecap="round"><path d="M308 251C310 252 314 252 316 253C318 254 318 256 319 257C320 259 323 259 323 260M323 253C322 254 321 258 320 260C318 261 317 263 315 263C313 264 310 262 309 262M334 250C334 251 333 256 333 257C332 259 329 260 329 261C329 263 331 265 331 266M344 251C344 252 346 255 346 256C346 258 347 260 346 262C345 264 342 266 341 267M359 251C358 250 354 249 353 250C351 251 351 256 350 258C349 259 346 260 345 260M367 254C366 255 363 255 362 257C361 259 360 262 361 265C362 267 366 270 366 271M317 262C316 260 313 257 313 255C312 253 315 251 314 250C313 248 309 245 308 244M327 267C327 265 328 261 329 259C330 257 333 255 333 253C333 251 329 248 329 247M339 264C339 263 341 258 340 256C339 255 335 254 334 253C332 251 333 248 332 247M352 267C351 266 350 263 348 262C347 261 344 262 342 263C340 264 338 265 337 265M362 262C363 261 364 258 363 256C363 254 361 252 360 250C359 248 356 245 355 243M309 275C309 274 309 270 308 268C307 266 305 263 304 261C303 259 302 255 301 254M320 277C318 276 314 275 313 273C312 272 313 270 312 268C311 266 308 264 308 263M332 273C332 274 335 278 336 280C337 281 338 282 340 284C341 285 345 286 346 286M345 274C346 273 349 269 350 268C352 267 354 267 356 267C358 267 362 270 363 270M358 274C357 274 354 275 352 275C351 275 349 277 347 276C346 275 344 271 343 270M370 279C369 278 366 277 365 277C363 277 363 279 361 280C359 280 354 279 353 279M314 286C315 285 316 280 316 278C315 276 312 274 311 272C311 270 312 266 313 264M326 286C326 285 326 282 326 280C327 278 326 275 327 274C328 272 331 271 332 270M337 288C337 287 336 283 337 281C339 279 342 278 345 277C347 276 350 275 351 274M349 287C348 287 344 289 343 291C342 293 344 296 343 297C342 299 338 298 337 299M361 288C361 288 361 291 360 293C358 294 355 296 353 296C350 297 347 295 346 294M308 301C307 301 304 301 302 302C300 302 297 304 295 304C293 303 289 300 288 299M319 299C318 299 315 299 313 300C312 301 311 303 310 304C310 306 310 310 310 311M336 302C338 303 342 304 344 306C346 307 348 310 350 311C352 311 356 308 357 307M346 299C346 298 346 294 346 292C347 290 349 289 349 287C350 284 349 280 349 279M355 298C354 297 352 295 352 294C351 292 351 290 351 288C351 285 351 282 351 281M370 300C370 301 371 304 370 306C369 308 365 308 365 310C364 312 365 317 365 318M314 310C313 310 310 312 308 313C306 313 304 314 302 314C301 315 298 315 297 315M328 313C328 313 330 314 333 314C335 314 338 314 341 315C343 315 347 316 348 317M341 310C342 310 345 311 346 312C347 314 346 317 347 319C348 320 353 322 354 323M352 314C352 315 351 317 352 319C352 321 354 323 356 324C358 324 361 322 362 321M362 311C361 310 359 306 358 304C357 301 357 298 357 296C357 293 357 289 357 287" stroke="#98b874" stroke-width="1.0" opacity="0.95"/></g>
<path d="M325.0,313.0 C325.0,311.3 327.8,302.7 330.0,298.0 C332.2,293.3 334.7,289.3 338.0,285.0 C341.3,280.7 346.0,276.2 350.0,272.0 C354.0,267.8 358.2,263.1 362.0,260.0 C365.8,256.9 369.2,254.1 373.0,253.5 C376.8,252.9 383.8,255.3 385.0,256.7 C386.2,258.1 382.2,259.8 380.0,262.0 C377.8,264.2 374.8,267.0 372.0,270.0 C369.2,273.0 365.7,276.7 363.0,280.0 C360.3,283.3 357.6,287.4 356.0,290.0 C354.4,292.6 354.0,293.1 353.3,295.6 C352.6,298.1 354.2,303.3 352.0,305.0 C349.8,306.7 343.7,305.5 340.0,306.0 C336.3,306.5 332.5,306.8 330.0,308.0 C327.5,309.2 325.0,314.7 325.0,313.0Z" fill="#cfe4ef"/>
<clipPath id="cp_sen"><path d="M325.0,313.0 C325.0,311.3 327.8,302.7 330.0,298.0 C332.2,293.3 334.7,289.3 338.0,285.0 C341.3,280.7 346.0,276.2 350.0,272.0 C354.0,267.8 358.2,263.1 362.0,260.0 C365.8,256.9 369.2,254.1 373.0,253.5 C376.8,252.9 383.8,255.3 385.0,256.7 C386.2,258.1 382.2,259.8 380.0,262.0 C377.8,264.2 374.8,267.0 372.0,270.0 C369.2,273.0 365.7,276.7 363.0,280.0 C360.3,283.3 357.6,287.4 356.0,290.0 C354.4,292.6 354.0,293.1 353.3,295.6 C352.6,298.1 354.2,303.3 352.0,305.0 C349.8,306.7 343.7,305.5 340.0,306.0 C336.3,306.5 332.5,306.8 330.0,308.0 C327.5,309.2 325.0,314.7 325.0,313.0Z"/></clipPath>
<g clip-path="url(#cp_sen)" fill="none" stroke-linecap="round"><path d="M327 252C327 250 324 247 324 245C323 242 325 239 324 237C323 235 320 234 319 233M338 256C337 256 333 254 331 255C330 255 328 259 327 260C325 261 322 260 321 260M352 255C352 255 355 257 356 259C357 261 355 265 355 266C356 268 359 269 359 269M359 255C359 256 360 259 360 261C360 263 358 265 359 267C360 269 363 272 364 273M373 255C374 255 377 255 378 254C380 254 381 253 383 252C385 251 389 249 391 249M387 251C386 252 385 255 384 258C383 260 382 262 383 264C384 266 388 269 389 270M330 268C329 268 326 269 325 270C323 272 322 276 321 278C320 280 319 281 318 282M341 265C340 265 336 264 335 265C333 265 332 266 330 267C328 267 325 267 324 268M352 265C352 264 353 262 354 260C355 258 357 257 358 256C359 254 359 250 359 249M366 266C365 265 365 259 364 258C362 256 359 258 357 257C355 255 353 251 352 250M381 266C380 266 377 265 375 263C374 262 372 258 373 256C373 254 377 252 378 251M324 279C324 278 324 274 323 272C323 270 322 267 321 266C320 264 318 262 317 262M336 276C337 276 341 276 342 276C344 275 345 273 346 272C347 270 348 267 348 266M346 280C345 280 341 281 340 283C338 284 337 286 336 287C336 289 339 292 339 293M360 279C360 278 358 274 359 273C360 271 364 270 365 269C366 267 364 264 364 263M373 280C372 281 369 282 367 282C365 281 365 279 363 278C362 276 358 273 357 273M384 276C384 275 386 273 388 272C390 271 392 272 394 271C396 270 398 269 399 268M332 292C330 292 326 292 324 291C323 289 324 285 323 284C321 282 316 282 315 282M345 289C346 289 350 288 352 289C354 290 356 293 356 295C356 297 353 299 353 300M354 291C353 290 350 287 348 286C346 285 345 285 343 285C342 285 339 285 338 285M368 289C367 288 364 288 362 287C360 287 358 288 357 287C356 285 355 281 355 280M382 287C382 286 381 282 380 281C379 280 377 279 375 280C373 280 370 284 369 284M323 303C321 304 318 305 316 306C314 307 311 307 309 308C307 308 304 308 303 308M338 300C339 299 341 296 342 293C342 291 340 287 341 285C342 284 346 283 347 283M348 302C348 301 348 299 349 297C349 295 349 291 350 290C351 288 354 286 355 286M364 300C363 299 361 297 360 297C358 297 357 299 355 299C353 300 349 302 348 302M371 304C371 305 373 307 372 310C372 312 369 315 369 317C368 319 371 321 371 322M387 300C388 300 392 300 394 299C396 298 399 296 401 295C403 294 405 292 406 292" stroke="#a9c6d6" stroke-width="1.0" opacity="0.95"/></g>
<path d="M385.3,256.7 C388.7,257.0 395.8,260.8 400.6,263.6 C405.5,266.4 410.2,269.4 414.4,273.3 C418.6,277.2 422.3,282.3 425.6,287.2 C428.9,292.1 431.7,297.4 434.0,302.5 C436.3,307.6 438.9,314.8 439.4,317.8 C439.8,320.8 438.6,318.6 436.7,320.5 C434.8,322.4 432.4,327.8 428.0,329.0 C423.6,330.2 415.3,328.5 410.0,328.0 C404.7,327.5 399.0,327.7 396.0,326.0 C393.0,324.3 391.0,321.3 392.0,318.0 C393.0,314.7 400.3,309.3 402.0,306.0 C403.7,302.7 404.8,299.2 402.0,298.0 C399.2,296.8 390.8,297.8 385.0,299.0 C379.2,300.2 372.3,304.8 367.0,305.0 C361.7,305.2 355.6,301.6 353.3,300.0 C351.0,298.4 352.9,297.6 353.3,295.6 C353.8,293.6 354.2,290.9 356.0,288.0 C357.8,285.1 361.3,281.3 364.0,278.0 C366.7,274.7 369.3,270.7 372.0,268.0 C374.7,265.3 377.8,263.9 380.0,262.0 C382.2,260.1 381.9,256.4 385.3,256.7Z" fill="#dcae88"/>
<clipPath id="cp_tan"><path d="M385.3,256.7 C388.7,257.0 395.8,260.8 400.6,263.6 C405.5,266.4 410.2,269.4 414.4,273.3 C418.6,277.2 422.3,282.3 425.6,287.2 C428.9,292.1 431.7,297.4 434.0,302.5 C436.3,307.6 438.9,314.8 439.4,317.8 C439.8,320.8 438.6,318.6 436.7,320.5 C434.8,322.4 432.4,327.8 428.0,329.0 C423.6,330.2 415.3,328.5 410.0,328.0 C404.7,327.5 399.0,327.7 396.0,326.0 C393.0,324.3 391.0,321.3 392.0,318.0 C393.0,314.7 400.3,309.3 402.0,306.0 C403.7,302.7 404.8,299.2 402.0,298.0 C399.2,296.8 390.8,297.8 385.0,299.0 C379.2,300.2 372.3,304.8 367.0,305.0 C361.7,305.2 355.6,301.6 353.3,300.0 C351.0,298.4 352.9,297.6 353.3,295.6 C353.8,293.6 354.2,290.9 356.0,288.0 C357.8,285.1 361.3,281.3 364.0,278.0 C366.7,274.7 369.3,270.7 372.0,268.0 C374.7,265.3 377.8,263.9 380.0,262.0 C382.2,260.1 381.9,256.4 385.3,256.7Z"/></clipPath>
<g clip-path="url(#cp_tan)" fill="none" stroke-linecap="round"><path d="M356 254C355 254 351 252 349 252C346 251 343 250 341 251C339 252 338 256 337 257M363 259C364 259 367 260 369 259C370 258 372 257 373 255C375 254 376 252 377 251M372 258C370 258 366 255 364 255C361 255 359 256 357 258C356 259 355 264 355 265M386 255C386 255 389 253 390 251C391 250 391 246 393 245C394 244 397 245 398 244M394 257C393 257 389 257 386 258C384 259 382 262 381 264C380 266 379 270 378 271M405 255C406 255 409 258 411 257C413 257 413 254 415 253C416 253 419 255 419 255M416 255C415 254 412 253 411 252C409 251 409 249 407 248C406 247 401 245 400 244M425 259C425 258 425 255 426 253C427 252 431 251 432 249C433 247 431 244 431 243M432 256C433 255 437 254 439 252C441 250 442 247 443 245C443 242 440 240 440 239M356 266C356 267 357 270 356 272C355 274 352 275 352 277C351 279 354 282 354 283M368 269C368 271 370 275 369 278C368 280 365 281 363 282C362 284 362 287 362 288M377 264C378 264 381 265 383 266C385 267 387 269 389 269C390 268 393 264 394 263M389 267C388 266 384 263 383 261C383 259 385 256 385 254C385 251 385 248 384 247M398 270C397 270 394 273 394 275C394 277 396 282 397 283C399 284 403 282 405 282M411 265C410 265 407 263 405 263C404 263 402 265 400 265C398 265 395 262 394 262M421 264C420 263 417 261 415 259C414 257 412 256 412 254C411 253 414 251 414 250M430 269C428 268 424 266 422 266C419 266 417 269 415 269C413 269 410 268 409 267M440 266C438 266 435 263 433 263C431 262 428 263 426 263C424 263 421 262 420 262M354 275C355 275 358 272 360 271C362 269 364 269 366 267C367 266 367 263 367 262M366 277C365 277 360 275 358 275C356 275 355 278 353 278C351 278 348 276 347 275M374 279C375 279 377 280 379 280C381 280 385 279 387 280C389 281 390 283 391 284M381 275C382 276 386 277 389 277C391 278 393 280 395 279C397 279 399 276 400 275M396 278C395 278 391 281 389 281C387 281 385 280 384 279C382 278 380 275 379 275M403 275C403 276 401 280 401 281C402 283 404 283 406 285C407 286 409 288 409 288M411 278C412 279 413 282 413 284C413 285 412 287 410 288C409 290 405 292 404 293M422 276C422 275 425 273 425 271C425 269 423 267 421 266C419 264 416 262 415 261M432 276C432 275 433 272 433 270C433 268 432 265 432 263C433 261 436 260 437 260M361 288C360 288 356 289 355 290C354 292 355 295 355 298C355 300 356 303 356 304M368 289C367 289 364 287 362 286C360 286 357 286 355 285C354 283 353 280 353 279M378 289C377 289 374 292 372 292C370 292 367 290 365 289C364 287 363 284 362 283M386 288C385 287 383 282 382 281C380 280 377 280 376 281C374 282 373 287 372 288M396 284C396 283 396 281 397 279C398 277 400 275 401 273C403 271 404 270 404 269M409 286C410 285 410 280 411 279C413 277 415 278 417 277C418 276 421 273 421 272M415 290C416 291 416 294 418 295C420 297 423 297 425 299C427 300 430 302 431 303M428 284C427 284 422 286 420 286C418 286 417 283 416 283C414 282 411 283 410 283M439 286C437 286 434 287 432 288C429 289 427 290 425 292C424 294 424 299 424 300M354 294C353 295 352 298 351 300C349 301 348 302 347 305C346 307 346 311 346 312M362 298C363 297 364 293 366 292C367 292 371 292 372 293C374 294 374 297 374 298M373 298C373 298 374 301 375 303C375 304 376 307 375 308C374 310 370 311 369 312M385 297C385 296 386 293 385 291C384 289 382 286 379 285C377 284 373 286 371 286M392 294C392 296 393 300 393 302C394 305 395 307 397 309C398 311 403 312 404 313M404 295C405 295 407 297 408 299C408 300 406 302 407 304C407 306 410 310 410 311M412 297C412 298 411 301 409 303C408 304 406 304 404 304C402 303 398 300 397 299M423 294C422 294 419 295 417 296C416 297 414 297 412 298C410 298 406 300 405 300M433 298C433 299 434 302 433 303C432 305 427 307 425 307C423 307 421 303 420 303M357 306C357 304 358 299 357 298C356 296 352 296 351 294C350 293 350 288 350 287M369 304C370 305 375 305 376 306C378 308 379 310 379 312C378 313 376 315 375 316M379 310C378 309 373 308 372 308C370 309 369 312 368 313C367 315 366 318 366 319M390 305C390 304 389 301 388 300C388 298 388 297 388 294C387 292 388 288 388 287M399 306C400 307 402 307 404 308C406 309 407 310 408 311C410 312 412 315 413 316M408 308C409 308 413 309 416 309C418 309 421 307 423 307C426 307 428 311 428 311M416 304C416 303 415 300 415 298C415 296 415 294 414 292C414 290 414 288 413 287M429 307C429 308 428 311 429 313C430 315 431 316 433 317C435 318 440 317 441 317M438 309C439 310 441 313 440 315C440 318 439 320 438 322C436 323 434 325 433 325M355 315C356 315 359 316 361 317C362 318 365 319 366 320C367 321 366 325 366 325M364 315C363 314 363 309 362 308C361 306 358 307 356 307C354 306 350 304 349 303M371 317C371 316 372 313 373 312C375 311 378 310 380 310C381 310 383 313 383 313M386 316C386 317 387 320 386 322C386 324 383 326 383 328C383 330 385 333 385 334M391 315C392 316 396 320 396 322C396 324 393 326 391 328C390 330 388 332 387 333M405 319C405 318 406 316 407 314C408 312 410 309 412 308C414 307 416 307 417 307M415 316C414 317 412 320 410 322C408 323 407 324 405 323C403 323 399 319 398 319M426 318C427 318 430 317 433 316C435 315 437 313 440 313C442 313 446 315 447 315M432 319C432 319 430 316 431 314C432 313 436 312 437 310C439 308 440 304 440 303M357 325C356 326 355 330 353 330C351 331 347 330 345 330C343 329 341 326 340 326M370 328C371 327 374 324 375 323C377 321 376 319 378 318C379 316 383 314 384 313M377 327C378 327 381 326 382 326C384 325 386 326 387 324C388 323 389 318 389 317M388 327C387 328 385 329 383 331C382 333 381 336 380 338C378 340 376 342 375 342M396 325C395 324 393 321 393 319C392 317 393 315 394 314C395 312 398 311 398 310M410 325C409 325 406 325 404 326C402 328 401 331 400 333C398 335 394 337 393 338M418 327C419 326 424 326 426 324C428 323 429 320 430 318C430 315 428 312 427 311M425 325C426 324 431 323 432 321C434 320 435 318 435 316C435 314 432 311 431 310M440 327C439 326 435 325 433 324C431 323 430 322 429 320C428 319 427 316 426 315" stroke="#f0d0b0" stroke-width="2.6" opacity="0.9" transform="translate(1.5,1.3)"/><path d="M356 254C355 254 351 252 349 252C346 251 343 250 341 251C339 252 338 256 337 257M363 259C364 259 367 260 369 259C370 258 372 257 373 255C375 254 376 252 377 251M372 258C370 258 366 255 364 255C361 255 359 256 357 258C356 259 355 264 355 265M386 255C386 255 389 253 390 251C391 250 391 246 393 245C394 244 397 245 398 244M394 257C393 257 389 257 386 258C384 259 382 262 381 264C380 266 379 270 378 271M405 255C406 255 409 258 411 257C413 257 413 254 415 253C416 253 419 255 419 255M416 255C415 254 412 253 411 252C409 251 409 249 407 248C406 247 401 245 400 244M425 259C425 258 425 255 426 253C427 252 431 251 432 249C433 247 431 244 431 243M432 256C433 255 437 254 439 252C441 250 442 247 443 245C443 242 440 240 440 239M356 266C356 267 357 270 356 272C355 274 352 275 352 277C351 279 354 282 354 283M368 269C368 271 370 275 369 278C368 280 365 281 363 282C362 284 362 287 362 288M377 264C378 264 381 265 383 266C385 267 387 269 389 269C390 268 393 264 394 263M389 267C388 266 384 263 383 261C383 259 385 256 385 254C385 251 385 248 384 247M398 270C397 270 394 273 394 275C394 277 396 282 397 283C399 284 403 282 405 282M411 265C410 265 407 263 405 263C404 263 402 265 400 265C398 265 395 262 394 262M421 264C420 263 417 261 415 259C414 257 412 256 412 254C411 253 414 251 414 250M430 269C428 268 424 266 422 266C419 266 417 269 415 269C413 269 410 268 409 267M440 266C438 266 435 263 433 263C431 262 428 263 426 263C424 263 421 262 420 262M354 275C355 275 358 272 360 271C362 269 364 269 366 267C367 266 367 263 367 262M366 277C365 277 360 275 358 275C356 275 355 278 353 278C351 278 348 276 347 275M374 279C375 279 377 280 379 280C381 280 385 279 387 280C389 281 390 283 391 284M381 275C382 276 386 277 389 277C391 278 393 280 395 279C397 279 399 276 400 275M396 278C395 278 391 281 389 281C387 281 385 280 384 279C382 278 380 275 379 275M403 275C403 276 401 280 401 281C402 283 404 283 406 285C407 286 409 288 409 288M411 278C412 279 413 282 413 284C413 285 412 287 410 288C409 290 405 292 404 293M422 276C422 275 425 273 425 271C425 269 423 267 421 266C419 264 416 262 415 261M432 276C432 275 433 272 433 270C433 268 432 265 432 263C433 261 436 260 437 260M361 288C360 288 356 289 355 290C354 292 355 295 355 298C355 300 356 303 356 304M368 289C367 289 364 287 362 286C360 286 357 286 355 285C354 283 353 280 353 279M378 289C377 289 374 292 372 292C370 292 367 290 365 289C364 287 363 284 362 283M386 288C385 287 383 282 382 281C380 280 377 280 376 281C374 282 373 287 372 288M396 284C396 283 396 281 397 279C398 277 400 275 401 273C403 271 404 270 404 269M409 286C410 285 410 280 411 279C413 277 415 278 417 277C418 276 421 273 421 272M415 290C416 291 416 294 418 295C420 297 423 297 425 299C427 300 430 302 431 303M428 284C427 284 422 286 420 286C418 286 417 283 416 283C414 282 411 283 410 283M439 286C437 286 434 287 432 288C429 289 427 290 425 292C424 294 424 299 424 300M354 294C353 295 352 298 351 300C349 301 348 302 347 305C346 307 346 311 346 312M362 298C363 297 364 293 366 292C367 292 371 292 372 293C374 294 374 297 374 298M373 298C373 298 374 301 375 303C375 304 376 307 375 308C374 310 370 311 369 312M385 297C385 296 386 293 385 291C384 289 382 286 379 285C377 284 373 286 371 286M392 294C392 296 393 300 393 302C394 305 395 307 397 309C398 311 403 312 404 313M404 295C405 295 407 297 408 299C408 300 406 302 407 304C407 306 410 310 410 311M412 297C412 298 411 301 409 303C408 304 406 304 404 304C402 303 398 300 397 299M423 294C422 294 419 295 417 296C416 297 414 297 412 298C410 298 406 300 405 300M433 298C433 299 434 302 433 303C432 305 427 307 425 307C423 307 421 303 420 303M357 306C357 304 358 299 357 298C356 296 352 296 351 294C350 293 350 288 350 287M369 304C370 305 375 305 376 306C378 308 379 310 379 312C378 313 376 315 375 316M379 310C378 309 373 308 372 308C370 309 369 312 368 313C367 315 366 318 366 319M390 305C390 304 389 301 388 300C388 298 388 297 388 294C387 292 388 288 388 287M399 306C400 307 402 307 404 308C406 309 407 310 408 311C410 312 412 315 413 316M408 308C409 308 413 309 416 309C418 309 421 307 423 307C426 307 428 311 428 311M416 304C416 303 415 300 415 298C415 296 415 294 414 292C414 290 414 288 413 287M429 307C429 308 428 311 429 313C430 315 431 316 433 317C435 318 440 317 441 317M438 309C439 310 441 313 440 315C440 318 439 320 438 322C436 323 434 325 433 325M355 315C356 315 359 316 361 317C362 318 365 319 366 320C367 321 366 325 366 325M364 315C363 314 363 309 362 308C361 306 358 307 356 307C354 306 350 304 349 303M371 317C371 316 372 313 373 312C375 311 378 310 380 310C381 310 383 313 383 313M386 316C386 317 387 320 386 322C386 324 383 326 383 328C383 330 385 333 385 334M391 315C392 316 396 320 396 322C396 324 393 326 391 328C390 330 388 332 387 333M405 319C405 318 406 316 407 314C408 312 410 309 412 308C414 307 416 307 417 307M415 316C414 317 412 320 410 322C408 323 407 324 405 323C403 323 399 319 398 319M426 318C427 318 430 317 433 316C435 315 437 313 440 313C442 313 446 315 447 315M432 319C432 319 430 316 431 314C432 313 436 312 437 310C439 308 440 304 440 303M357 325C356 326 355 330 353 330C351 331 347 330 345 330C343 329 341 326 340 326M370 328C371 327 374 324 375 323C377 321 376 319 378 318C379 316 383 314 384 313M377 327C378 327 381 326 382 326C384 325 386 326 387 324C388 323 389 318 389 317M388 327C387 328 385 329 383 331C382 333 381 336 380 338C378 340 376 342 375 342M396 325C395 324 393 321 393 319C392 317 393 315 394 314C395 312 398 311 398 310M410 325C409 325 406 325 404 326C402 328 401 331 400 333C398 335 394 337 393 338M418 327C419 326 424 326 426 324C428 323 429 320 430 318C430 315 428 312 427 311M425 325C426 324 431 323 432 321C434 320 435 318 435 316C435 314 432 311 431 310M440 327C439 326 435 325 433 324C431 323 430 322 429 320C428 319 427 316 426 315" stroke="#b8845e" stroke-width="1.0" opacity="0.95"/></g>
<path d="M318.0,322.0 C317.5,320.0 319.2,312.5 322.0,310.0 C324.8,307.5 330.0,307.8 335.0,307.0 C340.0,306.2 348.9,306.2 352.0,305.0 C355.1,303.8 350.8,300.0 353.3,300.0 C355.8,300.0 364.7,303.0 367.0,305.0 C369.3,307.0 369.8,310.2 367.0,312.0 C364.2,313.8 355.3,315.0 350.0,316.0 C344.7,317.0 339.2,317.0 335.0,318.0 C330.8,319.0 327.8,321.3 325.0,322.0 C322.2,322.7 318.5,324.0 318.0,322.0Z" fill="#d9e86c"/>
<path d="M340.0,318.0 C340.3,316.5 346.3,315.0 350.0,313.0 C353.7,311.0 359.2,307.3 362.0,306.0 C364.8,304.7 366.2,303.8 367.0,305.0 C367.8,306.2 368.5,310.8 367.0,313.0 C365.5,315.2 361.2,316.5 358.0,318.0 C354.8,319.5 351.0,322.0 348.0,322.0 C345.0,322.0 339.7,319.5 340.0,318.0Z" fill="#e5489d"/>
<path d="M367.0,303.0 C370.0,299.8 379.2,299.8 385.0,299.0 C390.8,298.2 399.2,296.8 402.0,298.0 C404.8,299.2 403.7,303.0 402.0,306.0 C400.3,309.0 395.7,314.0 392.0,316.0 C388.3,318.0 384.2,317.7 380.0,318.0 C375.8,318.3 369.2,320.5 367.0,318.0 C364.8,315.5 364.0,306.2 367.0,303.0Z" fill="#c1de8c"/>
<clipPath id="cp_wer"><path d="M367.0,303.0 C370.0,299.8 379.2,299.8 385.0,299.0 C390.8,298.2 399.2,296.8 402.0,298.0 C404.8,299.2 403.7,303.0 402.0,306.0 C400.3,309.0 395.7,314.0 392.0,316.0 C388.3,318.0 384.2,317.7 380.0,318.0 C375.8,318.3 369.2,320.5 367.0,318.0 C364.8,315.5 364.0,306.2 367.0,303.0Z"/></clipPath>
<g clip-path="url(#cp_wer)" fill="none" stroke-linecap="round"><path d="M370 297C370 296 369 293 368 291C368 289 367 286 367 284C368 282 372 280 372 280M378 301C379 302 380 306 381 308C381 310 382 312 382 314C382 317 379 320 378 322M392 299C393 299 396 297 398 298C399 299 400 304 402 305C404 306 408 305 410 305M373 307C372 307 368 307 366 308C364 308 361 310 360 312C358 314 358 317 357 318M385 313C385 312 386 308 386 306C386 303 384 300 384 297C385 295 387 292 387 290M396 308C395 307 395 302 394 300C393 298 392 298 390 296C389 294 387 291 386 289" stroke="#9cc070" stroke-width="1.0" opacity="0.95"/></g>
<path d="M303.0,316.0 C304.8,314.3 308.3,319.0 312.0,320.0 C315.7,321.0 319.0,321.7 325.0,322.0 C331.0,322.3 341.0,323.0 348.0,322.0 C355.0,321.0 361.7,316.7 367.0,316.0 C372.3,315.3 379.2,316.7 380.0,318.0 C380.8,319.3 376.2,322.0 372.0,324.0 C367.8,326.0 361.2,328.5 355.0,330.0 C348.8,331.5 341.7,332.3 335.0,333.0 C328.3,333.7 320.7,334.5 315.0,334.0 C309.3,333.5 303.0,333.0 301.0,330.0 C299.0,327.0 301.2,317.7 303.0,316.0Z" fill="#ea9172"/>
<clipPath id="cp_tmp"><path d="M303.0,316.0 C304.8,314.3 308.3,319.0 312.0,320.0 C315.7,321.0 319.0,321.7 325.0,322.0 C331.0,322.3 341.0,323.0 348.0,322.0 C355.0,321.0 361.7,316.7 367.0,316.0 C372.3,315.3 379.2,316.7 380.0,318.0 C380.8,319.3 376.2,322.0 372.0,324.0 C367.8,326.0 361.2,328.5 355.0,330.0 C348.8,331.5 341.7,332.3 335.0,333.0 C328.3,333.7 320.7,334.5 315.0,334.0 C309.3,333.5 303.0,333.0 301.0,330.0 C299.0,327.0 301.2,317.7 303.0,316.0Z"/></clipPath>
<g clip-path="url(#cp_tmp)" fill="none" stroke-linecap="round"><path d="M299 317C300 318 302 320 303 320C305 321 308 319 310 321C311 322 312 327 312 329M311 315C312 314 313 311 314 309C314 307 315 306 315 304C315 302 313 299 313 298M324 319C325 320 328 323 329 325C331 327 334 329 335 331C337 333 338 337 338 338M336 314C336 313 335 309 336 307C336 305 338 302 339 300C339 298 338 295 338 294M352 316C351 317 350 320 348 321C347 322 345 323 343 323C342 322 338 319 337 319M360 319C361 319 362 321 363 323C364 325 366 328 366 330C367 332 366 335 366 336M375 314C374 315 371 318 369 320C367 322 365 323 363 323C361 324 357 322 356 322M310 329C309 331 308 335 307 337C307 339 309 341 308 343C307 344 304 346 303 347M319 329C319 328 320 324 319 323C318 321 315 321 313 320C311 319 307 317 306 317M332 328C331 329 329 331 327 331C324 331 321 329 320 327C318 326 319 323 319 322M344 330C343 328 340 325 340 323C339 320 340 317 341 315C341 312 344 309 344 308M353 329C353 328 354 325 353 323C352 322 348 322 346 320C345 319 345 315 345 314M365 326C366 328 369 331 369 334C370 336 369 338 368 340C367 341 365 343 364 343M381 327C382 327 384 329 386 329C388 329 389 328 391 328C393 327 397 326 398 325" stroke="#f8b89e" stroke-width="2.6" opacity="0.9" transform="translate(1.5,1.3)"/><path d="M299 317C300 318 302 320 303 320C305 321 308 319 310 321C311 322 312 327 312 329M311 315C312 314 313 311 314 309C314 307 315 306 315 304C315 302 313 299 313 298M324 319C325 320 328 323 329 325C331 327 334 329 335 331C337 333 338 337 338 338M336 314C336 313 335 309 336 307C336 305 338 302 339 300C339 298 338 295 338 294M352 316C351 317 350 320 348 321C347 322 345 323 343 323C342 322 338 319 337 319M360 319C361 319 362 321 363 323C364 325 366 328 366 330C367 332 366 335 366 336M375 314C374 315 371 318 369 320C367 322 365 323 363 323C361 324 357 322 356 322M310 329C309 331 308 335 307 337C307 339 309 341 308 343C307 344 304 346 303 347M319 329C319 328 320 324 319 323C318 321 315 321 313 320C311 319 307 317 306 317M332 328C331 329 329 331 327 331C324 331 321 329 320 327C318 326 319 323 319 322M344 330C343 328 340 325 340 323C339 320 340 317 341 315C341 312 344 309 344 308M353 329C353 328 354 325 353 323C352 322 348 322 346 320C345 319 345 315 345 314M365 326C366 328 369 331 369 334C370 336 369 338 368 340C367 341 365 343 364 343M381 327C382 327 384 329 386 329C388 329 389 328 391 328C393 327 397 326 398 325" stroke="#c9664f" stroke-width="1.0" opacity="0.95"/></g>
<path d="M291.7,345.8 C291.2,343.3 291.6,340.6 293.0,338.0 C294.4,335.4 295.5,330.8 300.0,330.0 C304.5,329.2 312.5,332.7 320.0,333.0 C327.5,333.3 337.0,333.8 345.0,332.0 C353.0,330.2 362.2,324.2 368.0,322.0 C373.8,319.8 376.0,320.0 380.0,319.0 C384.0,318.0 389.0,317.2 392.0,316.0 C395.0,314.8 397.2,310.5 398.0,312.0 C398.8,313.5 397.8,320.7 397.0,325.0 C396.2,329.3 395.8,334.5 393.0,338.0 C390.2,341.5 385.5,343.7 380.0,346.0 C374.5,348.3 366.7,350.3 360.0,352.0 C353.3,353.7 346.7,355.0 340.0,356.0 C333.3,357.0 325.8,357.7 320.0,358.0 C314.2,358.3 309.0,358.8 305.0,358.0 C301.0,357.2 298.2,355.0 296.0,353.0 C293.8,351.0 292.2,348.3 291.7,345.8Z" fill="#a8bbce"/>
<clipPath id="cp_blu"><path d="M291.7,345.8 C291.2,343.3 291.6,340.6 293.0,338.0 C294.4,335.4 295.5,330.8 300.0,330.0 C304.5,329.2 312.5,332.7 320.0,333.0 C327.5,333.3 337.0,333.8 345.0,332.0 C353.0,330.2 362.2,324.2 368.0,322.0 C373.8,319.8 376.0,320.0 380.0,319.0 C384.0,318.0 389.0,317.2 392.0,316.0 C395.0,314.8 397.2,310.5 398.0,312.0 C398.8,313.5 397.8,320.7 397.0,325.0 C396.2,329.3 395.8,334.5 393.0,338.0 C390.2,341.5 385.5,343.7 380.0,346.0 C374.5,348.3 366.7,350.3 360.0,352.0 C353.3,353.7 346.7,355.0 340.0,356.0 C333.3,357.0 325.8,357.7 320.0,358.0 C314.2,358.3 309.0,358.8 305.0,358.0 C301.0,357.2 298.2,355.0 296.0,353.0 C293.8,351.0 292.2,348.3 291.7,345.8Z"/></clipPath>
<g clip-path="url(#cp_blu)" fill="none" stroke-linecap="round"><path d="M294 309C293 308 291 306 291 304C290 302 290 300 289 298C289 296 286 293 285 293M300 314C299 315 297 318 295 320C294 322 293 323 292 324C291 325 288 324 287 325M312 312C313 312 316 315 317 317C319 318 320 320 321 322C322 324 324 327 325 328M320 314C321 315 324 319 326 320C328 321 332 323 334 323C336 322 338 319 339 318M330 312C330 311 330 307 330 305C330 303 329 302 329 300C328 298 326 295 326 295M340 313C339 313 336 314 334 314C332 313 331 311 329 311C327 311 323 312 322 312M353 315C354 314 358 312 360 311C363 311 366 313 368 313C370 312 370 309 371 308M359 314C359 313 360 310 360 308C360 306 359 305 359 303C359 301 359 296 360 294M371 309C372 310 376 313 377 315C378 317 376 320 377 321C378 323 381 323 382 324M380 314C379 312 376 309 376 306C376 304 377 301 378 300C379 299 382 298 383 298M389 312C389 313 385 314 385 316C385 318 388 321 388 324C388 326 387 331 387 332M300 322C299 320 297 316 296 314C296 312 299 311 299 310C299 308 296 306 295 306M307 321C308 322 311 326 312 327C313 329 315 329 315 331C316 333 314 337 314 338M314 321C314 320 315 316 316 314C316 313 318 312 319 310C319 307 318 303 318 301M326 320C325 320 323 321 321 322C319 323 317 325 315 325C312 326 308 326 307 326M336 319C335 319 332 318 330 318C328 318 325 318 323 318C320 317 318 315 318 315M348 323C347 324 345 329 344 330C343 332 341 332 341 334C340 336 340 341 340 343M355 321C356 321 360 318 361 318C363 317 365 320 367 319C368 318 371 313 372 312M369 319C370 319 374 318 376 316C378 315 378 311 380 310C381 309 386 310 387 310M379 321C380 320 385 320 387 318C388 317 388 312 389 310C390 308 392 307 393 306M389 320C388 321 386 325 384 326C382 327 378 325 376 326C374 327 374 332 373 333M397 324C396 324 392 323 390 322C389 321 390 318 388 317C386 316 382 317 381 317M290 331C291 332 294 333 294 335C295 336 294 340 295 342C295 345 295 347 295 348M303 330C302 332 302 336 302 339C301 341 300 343 300 345C301 347 305 349 306 350M314 334C315 334 318 335 320 336C321 337 322 338 323 340C324 342 325 347 325 348M323 329C324 328 328 326 330 325C332 324 334 324 336 323C338 323 341 321 342 321M332 333C334 333 338 332 340 333C342 335 343 339 343 341C344 343 343 345 343 346M343 334C342 334 339 333 338 331C337 330 338 327 339 325C340 323 342 321 342 320M351 331C351 332 354 335 354 337C354 338 352 342 350 342C348 343 343 341 342 341M364 335C363 334 362 331 361 330C359 329 359 327 357 326C355 326 350 326 349 326M374 331C375 330 378 326 380 326C382 325 385 327 387 326C389 325 391 320 391 319M381 333C380 334 375 336 374 338C373 340 375 343 375 345C374 347 373 351 372 352M394 331C396 331 401 332 403 331C405 330 405 328 405 326C405 324 405 319 404 318M294 341C295 340 297 339 299 338C300 337 302 334 304 333C307 332 311 332 312 332M308 340C309 341 313 343 315 343C317 343 319 341 321 341C322 342 325 346 325 347M317 343C317 342 316 338 315 337C313 337 311 337 309 338C308 339 308 343 308 344M325 340C324 339 323 335 322 333C320 331 317 329 315 329C313 328 311 330 310 330M336 341C335 340 334 336 332 335C330 334 326 334 323 335C321 336 317 338 316 338M344 344C343 345 340 348 338 350C337 351 334 350 333 352C332 353 333 356 333 357M359 340C359 339 358 335 357 333C355 332 354 330 352 331C350 331 346 335 345 336M366 343C365 343 362 343 361 344C360 346 360 350 361 352C362 355 366 356 368 357M376 343C376 344 375 347 376 349C376 351 376 354 378 356C379 357 382 357 383 357M388 341C388 341 384 340 383 341C381 342 380 344 379 345C378 347 377 350 376 351M398 342C397 341 395 337 395 335C394 333 397 332 397 330C397 328 393 326 393 325M289 352C289 352 286 351 284 350C282 350 281 349 279 349C277 349 274 352 273 352M299 349C299 351 296 354 295 356C293 358 292 358 291 360C290 362 291 366 291 368M312 354C313 355 316 356 316 358C317 359 314 362 314 364C314 366 316 369 317 369M324 350C325 350 329 350 332 350C335 349 338 349 340 348C341 347 341 343 341 342M331 350C330 350 327 349 326 347C326 345 329 342 329 341C329 339 327 337 326 336M343 352C344 352 348 352 350 353C352 353 354 353 356 354C358 354 362 355 363 355M353 350C354 350 358 349 360 349C362 350 364 352 364 354C365 356 363 358 363 359M360 353C360 352 360 348 359 347C358 346 355 345 353 345C351 346 349 348 349 349M373 352C374 352 379 350 379 348C380 346 378 342 376 340C375 338 372 337 371 337M382 355C381 354 381 350 379 348C378 346 375 344 372 344C370 344 366 346 364 347M391 350C392 350 395 348 396 346C398 344 400 341 400 340C399 338 396 336 395 335" stroke="#c8d8e6" stroke-width="2.6" opacity="0.9" transform="translate(1.5,1.3)"/><path d="M294 309C293 308 291 306 291 304C290 302 290 300 289 298C289 296 286 293 285 293M300 314C299 315 297 318 295 320C294 322 293 323 292 324C291 325 288 324 287 325M312 312C313 312 316 315 317 317C319 318 320 320 321 322C322 324 324 327 325 328M320 314C321 315 324 319 326 320C328 321 332 323 334 323C336 322 338 319 339 318M330 312C330 311 330 307 330 305C330 303 329 302 329 300C328 298 326 295 326 295M340 313C339 313 336 314 334 314C332 313 331 311 329 311C327 311 323 312 322 312M353 315C354 314 358 312 360 311C363 311 366 313 368 313C370 312 370 309 371 308M359 314C359 313 360 310 360 308C360 306 359 305 359 303C359 301 359 296 360 294M371 309C372 310 376 313 377 315C378 317 376 320 377 321C378 323 381 323 382 324M380 314C379 312 376 309 376 306C376 304 377 301 378 300C379 299 382 298 383 298M389 312C389 313 385 314 385 316C385 318 388 321 388 324C388 326 387 331 387 332M300 322C299 320 297 316 296 314C296 312 299 311 299 310C299 308 296 306 295 306M307 321C308 322 311 326 312 327C313 329 315 329 315 331C316 333 314 337 314 338M314 321C314 320 315 316 316 314C316 313 318 312 319 310C319 307 318 303 318 301M326 320C325 320 323 321 321 322C319 323 317 325 315 325C312 326 308 326 307 326M336 319C335 319 332 318 330 318C328 318 325 318 323 318C320 317 318 315 318 315M348 323C347 324 345 329 344 330C343 332 341 332 341 334C340 336 340 341 340 343M355 321C356 321 360 318 361 318C363 317 365 320 367 319C368 318 371 313 372 312M369 319C370 319 374 318 376 316C378 315 378 311 380 310C381 309 386 310 387 310M379 321C380 320 385 320 387 318C388 317 388 312 389 310C390 308 392 307 393 306M389 320C388 321 386 325 384 326C382 327 378 325 376 326C374 327 374 332 373 333M397 324C396 324 392 323 390 322C389 321 390 318 388 317C386 316 382 317 381 317M290 331C291 332 294 333 294 335C295 336 294 340 295 342C295 345 295 347 295 348M303 330C302 332 302 336 302 339C301 341 300 343 300 345C301 347 305 349 306 350M314 334C315 334 318 335 320 336C321 337 322 338 323 340C324 342 325 347 325 348M323 329C324 328 328 326 330 325C332 324 334 324 336 323C338 323 341 321 342 321M332 333C334 333 338 332 340 333C342 335 343 339 343 341C344 343 343 345 343 346M343 334C342 334 339 333 338 331C337 330 338 327 339 325C340 323 342 321 342 320M351 331C351 332 354 335 354 337C354 338 352 342 350 342C348 343 343 341 342 341M364 335C363 334 362 331 361 330C359 329 359 327 357 326C355 326 350 326 349 326M374 331C375 330 378 326 380 326C382 325 385 327 387 326C389 325 391 320 391 319M381 333C380 334 375 336 374 338C373 340 375 343 375 345C374 347 373 351 372 352M394 331C396 331 401 332 403 331C405 330 405 328 405 326C405 324 405 319 404 318M294 341C295 340 297 339 299 338C300 337 302 334 304 333C307 332 311 332 312 332M308 340C309 341 313 343 315 343C317 343 319 341 321 341C322 342 325 346 325 347M317 343C317 342 316 338 315 337C313 337 311 337 309 338C308 339 308 343 308 344M325 340C324 339 323 335 322 333C320 331 317 329 315 329C313 328 311 330 310 330M336 341C335 340 334 336 332 335C330 334 326 334 323 335C321 336 317 338 316 338M344 344C343 345 340 348 338 350C337 351 334 350 333 352C332 353 333 356 333 357M359 340C359 339 358 335 357 333C355 332 354 330 352 331C350 331 346 335 345 336M366 343C365 343 362 343 361 344C360 346 360 350 361 352C362 355 366 356 368 357M376 343C376 344 375 347 376 349C376 351 376 354 378 356C379 357 382 357 383 357M388 341C388 341 384 340 383 341C381 342 380 344 379 345C378 347 377 350 376 351M398 342C397 341 395 337 395 335C394 333 397 332 397 330C397 328 393 326 393 325M289 352C289 352 286 351 284 350C282 350 281 349 279 349C277 349 274 352 273 352M299 349C299 351 296 354 295 356C293 358 292 358 291 360C290 362 291 366 291 368M312 354C313 355 316 356 316 358C317 359 314 362 314 364C314 366 316 369 317 369M324 350C325 350 329 350 332 350C335 349 338 349 340 348C341 347 341 343 341 342M331 350C330 350 327 349 326 347C326 345 329 342 329 341C329 339 327 337 326 336M343 352C344 352 348 352 350 353C352 353 354 353 356 354C358 354 362 355 363 355M353 350C354 350 358 349 360 349C362 350 364 352 364 354C365 356 363 358 363 359M360 353C360 352 360 348 359 347C358 346 355 345 353 345C351 346 349 348 349 349M373 352C374 352 379 350 379 348C380 346 378 342 376 340C375 338 372 337 371 337M382 355C381 354 381 350 379 348C378 346 375 344 372 344C370 344 366 346 364 347M391 350C392 350 395 348 396 346C398 344 400 341 400 340C399 338 396 336 395 335" stroke="#7f98ad" stroke-width="1.0" opacity="0.95"/></g>
<path d="M307.0,358.0 C310.0,356.7 321.2,357.0 330.0,356.0 C338.8,355.0 351.7,353.7 360.0,352.0 C368.3,350.3 374.5,348.3 380.0,346.0 C385.5,343.7 390.0,341.0 393.0,338.0 C396.0,335.0 392.2,329.5 398.0,328.0 C403.8,326.5 421.6,330.2 428.0,329.0 C434.4,327.8 434.3,319.6 436.7,320.5 C439.1,321.4 441.3,329.8 442.2,334.4 C443.1,339.0 443.3,344.1 442.2,348.3 C441.1,352.5 438.5,357.9 435.3,359.4 C432.1,360.8 428.7,357.7 422.8,357.0 C416.9,356.3 408.0,355.2 400.0,355.0 C392.0,354.8 383.0,355.0 375.0,356.0 C367.0,357.0 359.5,359.3 352.0,361.0 C344.5,362.7 336.7,365.5 330.0,366.0 C323.3,366.5 315.8,365.3 312.0,364.0 C308.2,362.7 304.0,359.3 307.0,358.0Z" fill="#e98a81"/>
<clipPath id="cp_pink"><path d="M307.0,358.0 C310.0,356.7 321.2,357.0 330.0,356.0 C338.8,355.0 351.7,353.7 360.0,352.0 C368.3,350.3 374.5,348.3 380.0,346.0 C385.5,343.7 390.0,341.0 393.0,338.0 C396.0,335.0 392.2,329.5 398.0,328.0 C403.8,326.5 421.6,330.2 428.0,329.0 C434.4,327.8 434.3,319.6 436.7,320.5 C439.1,321.4 441.3,329.8 442.2,334.4 C443.1,339.0 443.3,344.1 442.2,348.3 C441.1,352.5 438.5,357.9 435.3,359.4 C432.1,360.8 428.7,357.7 422.8,357.0 C416.9,356.3 408.0,355.2 400.0,355.0 C392.0,354.8 383.0,355.0 375.0,356.0 C367.0,357.0 359.5,359.3 352.0,361.0 C344.5,362.7 336.7,365.5 330.0,366.0 C323.3,366.5 315.8,365.3 312.0,364.0 C308.2,362.7 304.0,359.3 307.0,358.0Z"/></clipPath>
<g clip-path="url(#cp_pink)" fill="none" stroke-linecap="round"><path d="M305 322C306 323 309 324 311 324C313 325 316 324 318 325C319 326 321 328 322 329M315 318C316 317 317 315 318 313C318 311 319 308 321 307C322 306 325 306 326 306M325 319C324 318 321 318 320 316C318 314 318 311 318 309C319 307 323 304 324 303M336 323C336 324 336 330 337 331C338 333 340 333 342 333C344 333 347 332 348 332M350 323C349 323 345 326 343 326C340 326 338 324 336 323C334 323 332 322 331 321M355 321C355 320 353 315 353 314C354 312 358 312 358 310C359 308 357 304 357 302M367 319C367 318 364 316 363 315C361 315 358 315 356 314C354 313 352 311 352 311M378 321C377 321 373 319 371 319C369 320 369 323 367 325C366 326 362 328 361 329M388 319C389 319 391 320 393 321C395 322 399 324 401 324C403 324 406 321 407 321M400 323C399 324 398 327 397 328C395 330 392 331 391 333C390 335 391 338 391 339M405 319C406 318 409 316 410 315C411 313 412 312 413 311C415 309 418 306 420 305M417 320C417 319 416 316 415 315C414 313 413 312 413 310C412 308 412 306 412 305M426 323C427 323 430 320 432 319C434 318 438 317 439 317C441 318 442 321 443 322M439 319C438 320 435 323 433 324C431 324 427 323 425 322C423 322 421 320 420 320M309 331C308 330 307 327 306 327C304 327 302 329 301 329C299 330 296 329 296 329M320 329C321 329 324 328 325 326C325 325 324 320 325 318C326 316 329 317 330 316M331 331C331 332 329 335 330 337C330 339 330 341 332 342C333 343 336 342 337 342M340 331C338 330 335 328 333 327C332 325 332 323 331 321C330 319 329 317 329 316M355 331C356 330 359 328 361 327C363 325 365 323 366 321C366 319 366 315 366 313M364 328C363 328 359 330 357 330C354 330 352 327 350 326C348 326 346 327 345 327M373 331C374 331 378 332 380 331C382 330 384 327 384 326C385 324 384 321 384 320M382 331C380 330 376 329 374 329C372 330 371 332 369 332C367 333 363 333 362 334M393 333C394 334 396 337 398 338C400 339 401 340 403 339C405 339 409 336 410 335M404 332C405 332 407 334 409 335C411 335 415 336 417 335C419 334 419 330 420 328M410 328C409 329 406 333 404 334C402 335 399 332 397 333C396 333 394 335 393 336M422 331C421 331 417 333 415 333C414 333 412 330 411 330C409 331 407 334 406 335M432 329C431 329 428 328 426 327C424 326 421 326 419 325C417 324 416 321 415 320M442 333C443 333 445 333 447 332C449 332 452 332 454 331C456 330 457 328 458 327M310 343C311 344 314 347 315 348C317 349 319 348 320 349C322 350 325 354 325 355M317 338C317 339 317 345 318 346C319 348 322 347 324 348C325 349 326 351 327 352M325 338C325 339 327 344 328 345C330 346 332 345 334 346C335 348 337 351 337 352M336 338C335 339 333 339 331 340C330 342 329 346 327 347C325 348 320 347 319 347M347 343C346 343 342 343 340 343C338 342 336 338 334 338C332 337 330 339 329 340M360 338C360 337 360 334 360 332C359 330 356 329 356 327C355 325 358 323 359 323M369 339C369 340 368 344 368 346C369 347 372 348 372 351C373 353 371 357 371 359M377 338C378 336 379 331 380 330C382 329 385 329 386 330C388 331 391 335 392 336M386 340C385 341 383 344 383 346C383 347 386 349 386 350C387 352 384 355 384 356M398 343C397 342 394 339 393 336C392 334 393 330 394 328C395 326 399 323 400 322M409 339C408 338 405 335 403 334C401 334 398 335 396 336C394 337 391 340 390 341M416 343C417 343 420 342 422 343C423 344 424 347 425 350C425 352 424 356 424 357M424 343C423 343 420 343 418 342C416 340 414 337 414 335C413 334 415 331 415 330M436 339C437 339 440 339 441 340C442 341 443 344 444 345C446 345 449 344 450 344M313 349C312 349 309 352 307 352C305 352 303 350 302 349C300 347 298 343 298 342M322 353C321 352 318 348 317 346C316 344 316 343 315 341C315 339 314 335 314 334M332 350C331 350 328 347 326 347C323 347 322 348 320 349C317 350 314 353 313 354M343 348C343 347 343 344 342 341C341 339 340 336 339 334C338 332 337 330 337 330M352 352C352 351 351 349 351 347C352 345 355 342 355 340C355 337 354 333 353 332M365 350C364 350 359 351 357 352C355 353 354 355 354 357C353 359 353 363 352 364M370 351C369 350 366 350 365 348C364 347 365 343 366 340C366 337 367 334 367 332M380 353C379 352 378 348 376 346C374 344 371 342 369 341C367 341 365 342 364 342M392 353C393 353 397 355 398 356C399 358 396 361 397 363C398 365 401 367 402 368M404 350C403 350 400 350 398 350C396 350 393 351 391 351C389 352 387 352 386 353M409 350C409 349 411 346 411 344C412 342 411 339 410 338C409 336 405 335 404 334M424 349C424 348 421 344 421 342C421 340 422 337 422 334C421 332 419 329 418 327M435 348C435 347 438 347 439 345C440 344 438 340 439 337C439 335 441 333 441 332M442 351C443 351 447 349 449 348C450 347 451 345 451 343C451 341 449 338 449 337M308 359C309 360 311 361 313 361C315 361 316 359 318 358C320 357 322 356 323 355M317 360C318 360 323 359 325 358C327 358 329 357 330 357C332 357 335 357 336 357M325 358C326 357 329 356 330 354C331 352 333 351 333 348C334 346 334 342 334 341M336 358C337 358 338 356 340 355C342 355 345 357 348 357C350 357 354 356 355 356M350 360C349 361 347 364 345 366C344 367 341 369 339 369C337 369 335 367 335 366M356 363C357 362 359 359 360 356C360 354 360 350 360 348C361 345 361 343 362 342M365 358C366 358 368 359 370 359C372 359 374 357 376 357C379 356 381 355 382 355M379 360C379 358 378 355 378 353C377 350 377 349 376 347C375 345 372 342 372 341M389 359C388 360 388 364 386 365C384 366 381 364 379 365C377 366 375 368 374 368M399 358C398 359 395 357 393 359C392 360 390 364 390 366C390 368 393 370 393 371M404 359C405 358 406 353 408 352C410 351 413 351 415 352C416 353 417 356 417 357M420 360C419 361 418 366 417 368C417 370 418 371 417 373C416 375 412 377 411 378M428 363C428 363 431 361 431 359C431 357 428 355 427 353C426 351 426 348 425 348M435 359C434 357 433 353 431 351C430 349 427 347 425 345C423 344 421 342 420 342" stroke="#f6b0a8" stroke-width="2.6" opacity="0.9" transform="translate(1.5,1.3)"/><path d="M305 322C306 323 309 324 311 324C313 325 316 324 318 325C319 326 321 328 322 329M315 318C316 317 317 315 318 313C318 311 319 308 321 307C322 306 325 306 326 306M325 319C324 318 321 318 320 316C318 314 318 311 318 309C319 307 323 304 324 303M336 323C336 324 336 330 337 331C338 333 340 333 342 333C344 333 347 332 348 332M350 323C349 323 345 326 343 326C340 326 338 324 336 323C334 323 332 322 331 321M355 321C355 320 353 315 353 314C354 312 358 312 358 310C359 308 357 304 357 302M367 319C367 318 364 316 363 315C361 315 358 315 356 314C354 313 352 311 352 311M378 321C377 321 373 319 371 319C369 320 369 323 367 325C366 326 362 328 361 329M388 319C389 319 391 320 393 321C395 322 399 324 401 324C403 324 406 321 407 321M400 323C399 324 398 327 397 328C395 330 392 331 391 333C390 335 391 338 391 339M405 319C406 318 409 316 410 315C411 313 412 312 413 311C415 309 418 306 420 305M417 320C417 319 416 316 415 315C414 313 413 312 413 310C412 308 412 306 412 305M426 323C427 323 430 320 432 319C434 318 438 317 439 317C441 318 442 321 443 322M439 319C438 320 435 323 433 324C431 324 427 323 425 322C423 322 421 320 420 320M309 331C308 330 307 327 306 327C304 327 302 329 301 329C299 330 296 329 296 329M320 329C321 329 324 328 325 326C325 325 324 320 325 318C326 316 329 317 330 316M331 331C331 332 329 335 330 337C330 339 330 341 332 342C333 343 336 342 337 342M340 331C338 330 335 328 333 327C332 325 332 323 331 321C330 319 329 317 329 316M355 331C356 330 359 328 361 327C363 325 365 323 366 321C366 319 366 315 366 313M364 328C363 328 359 330 357 330C354 330 352 327 350 326C348 326 346 327 345 327M373 331C374 331 378 332 380 331C382 330 384 327 384 326C385 324 384 321 384 320M382 331C380 330 376 329 374 329C372 330 371 332 369 332C367 333 363 333 362 334M393 333C394 334 396 337 398 338C400 339 401 340 403 339C405 339 409 336 410 335M404 332C405 332 407 334 409 335C411 335 415 336 417 335C419 334 419 330 420 328M410 328C409 329 406 333 404 334C402 335 399 332 397 333C396 333 394 335 393 336M422 331C421 331 417 333 415 333C414 333 412 330 411 330C409 331 407 334 406 335M432 329C431 329 428 328 426 327C424 326 421 326 419 325C417 324 416 321 415 320M442 333C443 333 445 333 447 332C449 332 452 332 454 331C456 330 457 328 458 327M310 343C311 344 314 347 315 348C317 349 319 348 320 349C322 350 325 354 325 355M317 338C317 339 317 345 318 346C319 348 322 347 324 348C325 349 326 351 327 352M325 338C325 339 327 344 328 345C330 346 332 345 334 346C335 348 337 351 337 352M336 338C335 339 333 339 331 340C330 342 329 346 327 347C325 348 320 347 319 347M347 343C346 343 342 343 340 343C338 342 336 338 334 338C332 337 330 339 329 340M360 338C360 337 360 334 360 332C359 330 356 329 356 327C355 325 358 323 359 323M369 339C369 340 368 344 368 346C369 347 372 348 372 351C373 353 371 357 371 359M377 338C378 336 379 331 380 330C382 329 385 329 386 330C388 331 391 335 392 336M386 340C385 341 383 344 383 346C383 347 386 349 386 350C387 352 384 355 384 356M398 343C397 342 394 339 393 336C392 334 393 330 394 328C395 326 399 323 400 322M409 339C408 338 405 335 403 334C401 334 398 335 396 336C394 337 391 340 390 341M416 343C417 343 420 342 422 343C423 344 424 347 425 350C425 352 424 356 424 357M424 343C423 343 420 343 418 342C416 340 414 337 414 335C413 334 415 331 415 330M436 339C437 339 440 339 441 340C442 341 443 344 444 345C446 345 449 344 450 344M313 349C312 349 309 352 307 352C305 352 303 350 302 349C300 347 298 343 298 342M322 353C321 352 318 348 317 346C316 344 316 343 315 341C315 339 314 335 314 334M332 350C331 350 328 347 326 347C323 347 322 348 320 349C317 350 314 353 313 354M343 348C343 347 343 344 342 341C341 339 340 336 339 334C338 332 337 330 337 330M352 352C352 351 351 349 351 347C352 345 355 342 355 340C355 337 354 333 353 332M365 350C364 350 359 351 357 352C355 353 354 355 354 357C353 359 353 363 352 364M370 351C369 350 366 350 365 348C364 347 365 343 366 340C366 337 367 334 367 332M380 353C379 352 378 348 376 346C374 344 371 342 369 341C367 341 365 342 364 342M392 353C393 353 397 355 398 356C399 358 396 361 397 363C398 365 401 367 402 368M404 350C403 350 400 350 398 350C396 350 393 351 391 351C389 352 387 352 386 353M409 350C409 349 411 346 411 344C412 342 411 339 410 338C409 336 405 335 404 334M424 349C424 348 421 344 421 342C421 340 422 337 422 334C421 332 419 329 418 327M435 348C435 347 438 347 439 345C440 344 438 340 439 337C439 335 441 333 441 332M442 351C443 351 447 349 449 348C450 347 451 345 451 343C451 341 449 338 449 337M308 359C309 360 311 361 313 361C315 361 316 359 318 358C320 357 322 356 323 355M317 360C318 360 323 359 325 358C327 358 329 357 330 357C332 357 335 357 336 357M325 358C326 357 329 356 330 354C331 352 333 351 333 348C334 346 334 342 334 341M336 358C337 358 338 356 340 355C342 355 345 357 348 357C350 357 354 356 355 356M350 360C349 361 347 364 345 366C344 367 341 369 339 369C337 369 335 367 335 366M356 363C357 362 359 359 360 356C360 354 360 350 360 348C361 345 361 343 362 342M365 358C366 358 368 359 370 359C372 359 374 357 376 357C379 356 381 355 382 355M379 360C379 358 378 355 378 353C377 350 377 349 376 347C375 345 372 342 372 341M389 359C388 360 388 364 386 365C384 366 381 364 379 365C377 366 375 368 374 368M399 358C398 359 395 357 393 359C392 360 390 364 390 366C390 368 393 370 393 371M404 359C405 358 406 353 408 352C410 351 413 351 415 352C416 353 417 356 417 357M420 360C419 361 418 366 417 368C417 370 418 371 417 373C416 375 412 377 411 378M428 363C428 363 431 361 431 359C431 357 428 355 427 353C426 351 426 348 425 348M435 359C434 357 433 353 431 351C430 349 427 347 425 345C423 344 421 342 420 342" stroke="#c8615a" stroke-width="1.0" opacity="0.95"/></g>
<path d="M436.0,332.0 C438.4,329.4 440.9,331.7 442.2,334.4 C443.5,337.1 444.0,344.1 443.6,348.0 C443.2,351.9 441.9,355.8 440.0,358.0 C438.1,360.2 435.2,360.7 432.0,361.0 C428.8,361.3 421.7,361.8 421.0,360.0 C420.3,358.2 425.5,354.7 428.0,350.0 C430.5,345.3 433.6,334.6 436.0,332.0Z" fill="#f5c45a"/>
<clipPath id="cp_ytip"><path d="M436.0,332.0 C438.4,329.4 440.9,331.7 442.2,334.4 C443.5,337.1 444.0,344.1 443.6,348.0 C443.2,351.9 441.9,355.8 440.0,358.0 C438.1,360.2 435.2,360.7 432.0,361.0 C428.8,361.3 421.7,361.8 421.0,360.0 C420.3,358.2 425.5,354.7 428.0,350.0 C430.5,345.3 433.6,334.6 436.0,332.0Z"/></clipPath>
<g clip-path="url(#cp_ytip)" fill="none" stroke-linecap="round"><path d="M420 330C420 332 421 336 423 337C424 339 426 339 428 339C430 338 432 336 433 335M434 329C434 329 432 327 430 326C429 325 426 324 424 322C422 321 419 319 419 318M429 345C429 346 429 351 427 353C425 354 422 355 419 355C417 356 415 356 414 357M437 343C436 343 431 345 429 344C427 343 426 340 424 340C422 340 419 344 418 345M420 357C420 356 417 354 417 351C417 349 420 346 422 345C424 344 428 346 429 346M432 355C431 356 427 358 425 358C422 358 419 357 417 356C416 354 418 349 418 348" stroke="#dea040" stroke-width="1.0" opacity="0.95"/></g>
<path d="M272.5,333.0 C274.2,332.8 281.2,335.2 285.0,336.0 C288.8,336.8 293.5,337.3 295.0,338.0 C296.5,338.7 296.0,339.8 294.0,340.0 C292.0,340.2 286.2,339.9 283.0,339.5 C279.8,339.1 276.8,338.6 275.0,337.5 C273.2,336.4 270.8,333.2 272.5,333.0Z" fill="#a6cf8a"/>
<line x1="270.0" y1="268.0" x2="346.0" y2="276.0" stroke="#a43c1a" stroke-width="1.2" marker-end="url(#ah)"/>
<line x1="253.5" y1="310.0" x2="312.0" y2="292.5" stroke="#a43c1a" stroke-width="1.2" marker-end="url(#ah)"/>
<line x1="235.6" y1="363.7" x2="281.3" y2="321.0" stroke="#a43c1a" stroke-width="1.2" marker-end="url(#ah)"/>
<line x1="235.6" y1="381.3" x2="301.0" y2="347.0" stroke="#a43c1a" stroke-width="1.2" marker-end="url(#ah)"/>
<line x1="453.1" y1="267.1" x2="345.6" y2="291.5" stroke="#a43c1a" stroke-width="1.2" marker-end="url(#ah)"/>
<line x1="468.2" y1="310.3" x2="386.5" y2="305.8" stroke="#a43c1a" stroke-width="1.2" marker-end="url(#ah)"/>
<line x1="415.4" y1="395.3" x2="358.9" y2="407.0" stroke="#a43c1a" stroke-width="1.2" marker-end="url(#ah)"/>
<line x1="290.0" y1="797.5" x2="416.0" y2="741.7" stroke="#a43c1a" stroke-width="1.2" marker-end="url(#ah)"/>
<line x1="454.0" y1="785.0" x2="416.0" y2="784.6" stroke="#a43c1a" stroke-width="1.2" marker-end="url(#ah)"/>
<line x1="463.4" y1="830.7" x2="409.0" y2="830.7" stroke="#a43c1a" stroke-width="1.2" marker-end="url(#ah)"/>
<line x1="337.5" y1="931.5" x2="429.0" y2="932.4" stroke="#a43c1a" stroke-width="1.2" marker-end="url(#ah)"/>
<g stroke="#a43c1a" stroke-width="1.2" fill="none">
<path d="M177,472 L161,472 L161,685 L177,685 M134.6,578 L177,578"/>
<path d="M603,453.5 L627.3,453.5 L627.3,710 L603,710 M603,584.8 L645,584.8"/>
</g>
<circle cx="177.0" cy="472.0" r="1.8" fill="#a43c1a"/>
<circle cx="177.0" cy="578.0" r="1.8" fill="#a43c1a"/>
<circle cx="177.0" cy="685.0" r="1.8" fill="#a43c1a"/>
<circle cx="603.0" cy="453.5" r="1.8" fill="#a43c1a"/>
<circle cx="603.0" cy="584.8" r="1.8" fill="#a43c1a"/>
<circle cx="603.0" cy="710.0" r="1.8" fill="#a43c1a"/>
</svg>
<div class="ln ttl" style="left:285.8px;top:18.0px;width:159.0px;color:#a5361a;font-size:22px;height:28px;line-height:28px;top:11px;-webkit-text-stroke:0.7px currentColor"><span>நரம்பு மண்டலம்</span></div>
<div class="ln intro" style="left:78.0px;top:49.5px;width:577.0px;color:#1c1c1c;font-size:12px;font-weight:600;-webkit-text-stroke:0"><span>நரம்பு மண்டலமானது நரம்பு செல்கள் அல்லது நியூரான்கள் எனும் சிறப்பு செல்களின் தொகுப்பால் ஆன</span></div>
<div class="ln intro" style="left:82.0px;top:63.5px;width:569.0px;color:#1c1c1c;font-size:12px;font-weight:600;-webkit-text-stroke:0"><span>அமைப்பு ஆகும்.&nbsp; இவ்வமைப்பு தூண்டல்களை உடலின் பல்வேறு பகுதிகளுக்கு கடத்தும் பணிகளைச்</span></div>
<div class="ln intro" style="left:331.6px;top:77.9px;width:70.0px;color:#1c1c1c;font-size:12px;font-weight:600;-webkit-text-stroke:0"><span>செய்கின்றது.</span></div>
<div class="c" style="left:178.0px;top:97.0px;width:158.0px;height:158.0px"></div>
<div class="ln " style="left:206.7px;top:132.8px;width:100.7px;"><span><b>முன் மத்திய மடிப்பு:</b></span></div>
<div class="ln " style="left:205.8px;top:144.9px;width:102.4px;"><span>இதற்கு இயக்கப்பட்டை</span></div>
<div class="ln " style="left:228.8px;top:157.3px;width:56.4px;"><span>என்று பெயர்.</span></div>
<div class="ln " style="left:212.6px;top:169.9px;width:88.8px;"><span>இச்சைக்கு உட்பட்ட</span></div>
<div class="ln " style="left:213.9px;top:181.8px;width:86.2px;"><span>எலும்புத்தசைகளின்</span></div>
<div class="ln " style="left:225.8px;top:195.4px;width:62.4px;"><span>இயக்கத்தைக்</span></div>
<div class="ln " style="left:211.7px;top:208.5px;width:90.7px;"><span>கட்டுப்படுத்துகின்றது.</span></div>
<div class="c" style="left:400.0px;top:97.0px;width:158.0px;height:158.0px"></div>
<div class="ln " style="left:430.5px;top:132.8px;width:97.0px;"><span><b>பின் மத்திய மடிப்பு:</b></span></div>
<div class="ln " style="left:425.5px;top:144.9px;width:107.0px;"><span>இதற்கு உணர்வுப்பட்டை</span></div>
<div class="ln " style="left:426.0px;top:157.3px;width:106.0px;"><span>என்றும் பெயர், பார்வை,</span></div>
<div class="ln " style="left:411.8px;top:170.5px;width:134.5px;"><span>நுகர்ச்சி, சுவை, தொடுவுணர்வு</span></div>
<div class="ln " style="left:412.7px;top:182.3px;width:132.6px;"><span>மற்றும் கேட்டல் ஆகிய ஐந்து</span></div>
<div class="ln " style="left:427.8px;top:194.9px;width:102.4px;"><span>உணர்வுகளைக் கட்டுப்</span></div>
<div class="ln " style="left:447.2px;top:208.5px;width:63.6px;"><span>படுத்துகின்றது.</span></div>
<div class="c" style="left:42.0px;top:250.5px;width:136.0px;height:136.0px"></div>
<div class="ln " style="left:77.2px;top:285.4px;width:65.6px;"><span><b>புரோகா பகுதி:</b></span></div>
<div class="ln " style="left:87.2px;top:298.1px;width:45.5px;"><span>மூளையின்</span></div>
<div class="ln " style="left:73.0px;top:311.8px;width:74.0px;"><span>இப்பகுதியிலுள்ள</span></div>
<div class="ln " style="left:64.5px;top:324.5px;width:91.0px;"><span>நியூரான்கள் <b>பேச்சுப்</b></span></div>
<div class="ln " style="left:57.6px;top:336.1px;width:104.8px;"><span><b>பணியில்</b> ஈடுபடுகின்றது.</span></div>
<div class="c" style="left:538.0px;top:249.6px;width:136.0px;height:136.0px"></div>
<div class="ln " style="left:567.9px;top:279.0px;width:76.2px;"><span><b>வெர்னிக் பகுதி:</b></span></div>
<div class="ln " style="left:583.0px;top:292.3px;width:46.0px;"><span>மூளையின்</span></div>
<div class="ln " style="left:561.5px;top:305.5px;width:88.9px;"><span>இப்பகுதியில் உள்ள</span></div>
<div class="ln " style="left:560.5px;top:318.2px;width:91.0px;"><span>இயக்க நியூரான்கள்.</span></div>
<div class="ln " style="left:589.6px;top:330.9px;width:32.8px;"><span>பேச்சை</span></div>
<div class="ln " style="left:559.1px;top:344.0px;width:93.8px;"><span>ஒருங்கிணைக்கின்றது.</span></div>
<div class="c" style="left:188.5px;top:403.5px;width:121.0px;height:121.0px"></div>
<div class="ln " style="left:236.0px;top:433.5px;width:26.0px;"><span><b>இதய</b></span></div>
<div class="ln " style="left:216.2px;top:445.9px;width:65.7px;"><span><b>சுழற்தொகுப்பு</b></span></div>
<div class="ln " style="left:214.8px;top:457.4px;width:68.5px;"><span>மையம் இதயத்</span></div>
<div class="ln " style="left:226.8px;top:469.4px;width:44.4px;"><span>துடிப்பைக்</span></div>
<div class="ln " style="left:204.2px;top:482.9px;width:89.6px;"><span>கட்டுப்படுத்துகின்றது.</span></div>
<div class="c" style="left:188.5px;top:526.2px;width:121.0px;height:121.0px"></div>
<div class="ln " style="left:214.0px;top:555.2px;width:70.0px;"><span><b>சுவாச மையம்</b></span></div>
<div class="ln " style="left:221.8px;top:568.7px;width:54.3px;"><span>சுவாச வீதம்</span></div>
<div class="ln " style="left:235.1px;top:580.5px;width:27.8px;"><span>மற்றும்</span></div>
<div class="ln " style="left:208.1px;top:593.5px;width:81.9px;"><span>அலையியக்கத்தை</span></div>
<div class="ln " style="left:204.2px;top:607.0px;width:89.6px;"><span>கட்டுப்படுத்துகின்றன.</span></div>
<div class="c" style="left:189.0px;top:650.0px;width:120.0px;height:120.0px"></div>
<div class="ln " style="left:210.8px;top:691.8px;width:76.5px;"><span><b>வாந்தி, இருமல்</b></span></div>
<div class="ln " style="left:214.8px;top:704.8px;width:68.5px;"><span>மற்றும் <b>தும்மல்</b></span></div>
<div class="ln " style="left:224.0px;top:717.8px;width:50.0px;"><span>மையங்கள்.</span></div>
<div class="c" style="left:462.0px;top:392.0px;width:127.0px;height:127.0px"></div>
<div class="ln " style="left:483.8px;top:419.9px;width:83.4px;"><span><b>ஹிப்போகேம்பஸ்:</b></span></div>
<div class="ln " style="left:490.0px;top:433.0px;width:71.0px;"><span>உணர்ச்சி வசம்,</span></div>
<div class="ln " style="left:493.9px;top:445.8px;width:63.3px;"><span>கற்றல மற்றும்</span></div>
<div class="ln " style="left:490.5px;top:455.4px;width:70.0px;"><span>நினைவாற்றலில்</span></div>
<div class="ln " style="left:484.8px;top:468.3px;width:81.5px;"><span>இப்பகுதி முக்கியப்</span></div>
<div class="ln " style="left:488.6px;top:481.3px;width:73.8px;"><span>பங்காற்றுகின்றது.</span></div>
<div class="c" style="left:462.0px;top:521.3px;width:127.0px;height:127.0px"></div>
<div class="ln " style="left:496.8px;top:546.7px;width:57.5px;"><span><b>அமிக்டாலா:</b></span></div>
<div class="ln " style="left:481.9px;top:559.1px;width:87.3px;"><span>கோபம், சாப்பிடுதல்,</span></div>
<div class="ln " style="left:477.1px;top:571.6px;width:96.9px;"><span>குடித்தல் மற்றும் பால்</span></div>
<div class="ln " style="left:494.8px;top:584.1px;width:61.4px;"><span>நடத்தைகளில்</span></div>
<div class="ln " style="left:484.8px;top:596.9px;width:81.5px;"><span>இப்பகுதி முக்கியப்</span></div>
<div class="ln " style="left:488.6px;top:609.0px;width:73.8px;"><span>பங்காற்றுகின்றது.</span></div>
<div class="c" style="left:462.0px;top:651.0px;width:127.0px;height:127.0px"></div>
<div class="ln " style="left:481.9px;top:676.7px;width:87.3px;"><span><b>ஹைபோதலாமஸ்:</b></span></div>
<div class="ln " style="left:479.5px;top:689.7px;width:92.0px;"><span>இரத்த குளுக்கோஸ்,</span></div>
<div class="ln " style="left:490.5px;top:702.2px;width:70.0px;"><span>உப்பு அளவுகள்</span></div>
<div class="ln " style="left:470.9px;top:715.0px;width:109.3px;"><span>இரத்த அழுத்தம் மற்றும்</span></div>
<div class="ln " style="left:489.6px;top:727.5px;width:71.9px;"><span>ஹார்மோன்களை</span></div>
<div class="ln " style="left:509.2px;top:740.9px;width:32.6px;"><span>ஒழுங்கு</span></div>
<div class="ln " style="left:493.9px;top:752.4px;width:63.3px;"><span>படுத்துகின்றது.</span></div>
<div class="c" style="left:41.3px;top:716.6px;width:156.5px;height:156.5px"></div>
<div class="ln " style="left:62.4px;top:750.4px;width:114.3px;"><span>இரத்த மூளைத் தடைகள்</span></div>
<div class="ln " style="left:66.8px;top:764.7px;width:105.5px;"><span><b class=en>(blood brain barrier)</b></span></div>
<div class="ln " style="left:68.4px;top:778.3px;width:102.4px;"><span>பல அயல்பொருட்களை</span></div>
<div class="ln " style="left:72.2px;top:790.9px;width:94.8px;"><span>சுழற்தொகுப்பிலிருந்து</span></div>
<div class="ln " style="left:71.6px;top:803.7px;width:96.0px;"><span>மூளைக்குள் நுழையா</span></div>
<div class="ln " style="left:85.3px;top:816.4px;width:68.6px;"><span>வண்ணம் தடை</span></div>
<div class="ln " style="left:91.8px;top:828.7px;width:55.5px;"><span>செய்கின்றது.</span></div>
<div class="c" style="left:94.9px;top:871.7px;width:165.0px;height:165.0px"></div>
<div class="ln " style="left:152.7px;top:905.0px;width:49.5px;"><span><b>நிகோடின்,</b></span></div>
<div class="ln " style="left:129.7px;top:916.8px;width:95.5px;"><span><b>ஆல்கஹால்</b> போன்ற</span></div>
<div class="ln " style="left:110.6px;top:929.4px;width:133.7px;"><span>பொருட்களின் மீது மூளையின்</span></div>
<div class="ln " style="left:139.7px;top:942.7px;width:75.4px;"><span>தடைகள் வேலை</span></div>
<div class="ln " style="left:120.6px;top:955.3px;width:113.6px;"><span>செய்வதில்லை. நிகோடின்</span></div>
<div class="ln " style="left:110.6px;top:967.9px;width:133.7px;"><span>7 நிமிடங்களிலும் ஆல்கஹால்</span></div>
<div class="ln " style="left:113.3px;top:980.4px;width:128.2px;"><span>6 நிமிடங்களிலும் மூளையை</span></div>
<div class="ln " style="left:140.9px;top:992.5px;width:72.9px;"><span>வந்தடைகின்றன.</span></div>
<div class="c" style="left:566.7px;top:731.4px;width:157.0px;height:157.0px"></div>
<div class="ln " style="left:605.9px;top:759.2px;width:78.6px;"><span>மூளை, உணர்ச்சி</span></div>
<div class="ln " style="left:593.2px;top:771.8px;width:104.0px;"><span>மற்றும் உணர்வுகளைக்</span></div>
<div class="ln " style="left:602.1px;top:784.5px;width:86.2px;"><span>கட்டுப்படுத்தினாலும்</span></div>
<div class="ln " style="left:592.6px;top:797.3px;width:105.2px;"><span><b>மூளையில் உணர்வு</b></span></div>
<div class="ln " style="left:578.0px;top:809.9px;width:134.5px;"><span><b>உறுப்புகள் இல்லாமையால்</b></span></div>
<div class="ln " style="left:605.9px;top:823.0px;width:78.6px;"><span>தன்னால் வலியை</span></div>
<div class="ln " style="left:607.7px;top:836.1px;width:75.0px;"><span>உணர இயலாது.</span></div>
<div class="c" style="left:496.7px;top:880.8px;width:157.0px;height:157.0px"></div>
<div class="ln " style="left:518.6px;top:923.0px;width:113.3px;"><span>மொத்த மூளை எடையில்</span></div>
<div class="ln " style="left:517.8px;top:934.9px;width:114.8px;"><span>75% நீர் ஆகும். மூளையே</span></div>
<div class="ln " style="left:535.9px;top:948.0px;width:78.6px;"><span><b>கொழுப்பு மிக்க</b></span></div>
<div class="ln " style="left:518.3px;top:960.6px;width:113.8px;"><span><b>உறுப்பாகும்.</b> இதில் <b>100</b></span></div>
<div class="ln " style="left:534.5px;top:973.0px;width:81.4px;"><span><b>பில்லியன் நரம்பு</b></span></div>
<div class="ln " style="left:527.8px;top:986.1px;width:94.8px;"><span><b>செல்கள் உள்ளன.</b></span></div>
<div class="ln lab" style="left:196.0px;top:260.5px;width:70.0px;color:#333;font-size:10px"><span>இயக்கப் பட்டை</span></div>
<div class="ln lab" style="left:215.8px;top:303.5px;width:31.7px;color:#333;font-size:10px"><span>புரோகா</span></div>
<div class="ln lab" style="left:225.7px;top:315.3px;width:22.5px;color:#333;font-size:10px"><span>பகுதி</span></div>
<div class="ln lab" style="left:211.8px;top:356.3px;width:19.9px;color:#333;font-size:10px"><span>மேடு</span></div>
<div class="ln lab" style="left:202.6px;top:376.1px;width:30.4px;color:#333;font-size:10px"><span>பள்ளம்</span></div>
<div class="ln lab" style="left:459.4px;top:257.3px;width:41.5px;color:#333;font-size:10px"><span>உணர்வுப்</span></div>
<div class="ln lab" style="left:459.4px;top:269.9px;width:27.6px;color:#333;font-size:10px"><span>பட்டை</span></div>
<div class="ln lab" style="left:472.0px;top:300.0px;width:37.7px;color:#333;font-size:10px"><span>வெர்னிக்</span></div>
<div class="ln lab" style="left:472.0px;top:312.5px;width:23.9px;color:#333;font-size:10px"><span>பகுதி</span></div>
<div class="ln lab" style="left:419.2px;top:388.0px;width:62.8px;color:#333;font-size:10px"><span>கழுத்து விரிவு</span></div>
<div class="ln lab" style="left:227.0px;top:791.0px;width:55.0px;color:#333;font-size:10px"><span>இடுப்பு விரிவு</span></div>
<div class="ln lab" style="left:459.8px;top:777.5px;width:38.2px;color:#333;font-size:10px"><span>கோனஸ்</span></div>
<div class="ln lab" style="left:459.8px;top:789.5px;width:50.8px;color:#333;font-size:10px"><span>மெடுலாரிஸ்</span></div>
<div class="ln lab" style="left:467.0px;top:822.5px;width:58.0px;color:#333;font-size:10px"><span>குதிரை வால்</span></div>
<div class="ln lab" style="left:467.0px;top:835.1px;width:36.0px;color:#333;font-size:10px"><span>அமைப்பு</span></div>
<div class="ln lab" style="left:265.0px;top:925.0px;width:67.5px;color:#333;font-size:10px"><span>முடிவு நூலிழை</span></div>
<div class="ln lab" style="left:79.0px;top:559.5px;width:37.0px;color:#9c3a18;font-size:10px"><span>முகுளம்:</span></div>
<div class="ln lab" style="left:63.0px;top:571.5px;width:69.0px;color:#333;font-size:10px"><span>முக்கிய செயல்</span></div>
<div class="ln lab" style="left:74.0px;top:584.5px;width:47.0px;color:#333;font-size:10px"><span>மையங்கள்</span></div>
<div class="ln lab" style="left:647.0px;top:576.2px;width:77.0px;color:#333;font-size:10px;font-weight:bold"><span>லிம்பிக் தொகுப்பு</span></div>
<div class="ln lab" style="left:647.0px;top:588.5px;width:17.0px;color:#333;font-size:10px"><span>(அ)</span></div>
<div class="ln lab" style="left:647.0px;top:601.3px;width:71.0px;color:#333;font-size:10px;font-weight:bold"><span>உணர் செயலித்</span></div>
<div class="ln lab" style="left:647.0px;top:613.5px;width:39.0px;color:#333;font-size:10px;font-weight:bold"><span>தொகுப்பு</span></div>
<script>
(function(){
 var L=document.querySelectorAll('.ln');
 for(var i=0;i<L.length;i++){
  var d=L[i], s=d.firstElementChild; var w=d.getBoundingClientRect().width;
  var n=s.getBoundingClientRect().width; if(n>0){ s.style.transform='translateX(-50%) scaleX('+(w/n)+')'; }
 }
})();
</script>
</body></html>
